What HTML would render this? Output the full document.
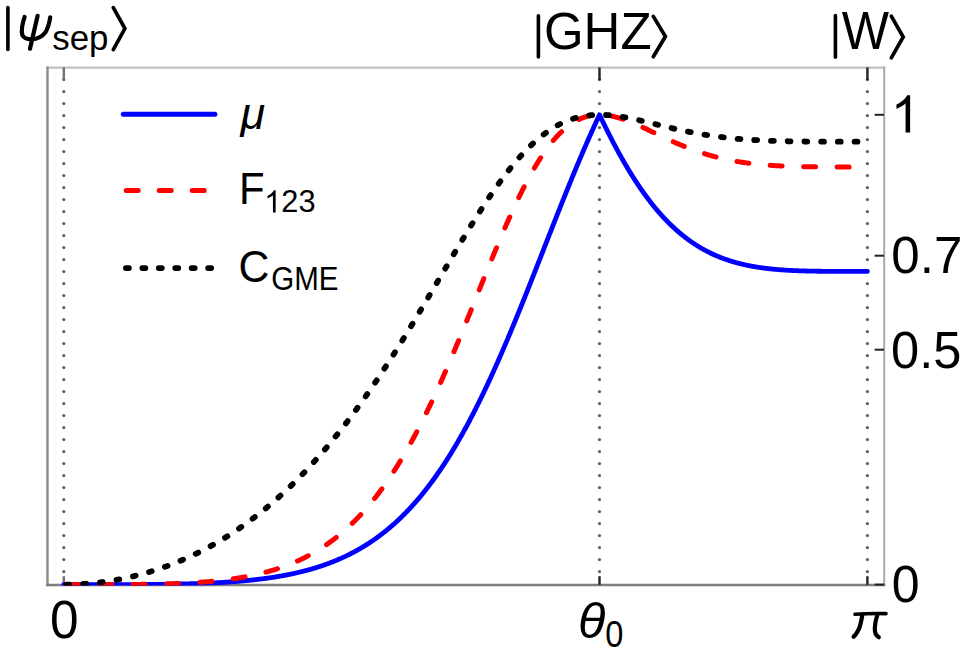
<!DOCTYPE html>
<html><head><meta charset="utf-8"><style>html,body{margin:0;padding:0;background:#fff;overflow:hidden;}svg{display:block;}</style></head>
<body>
<svg width="967" height="656" viewBox="0 0 967 656">
<rect width="967" height="656" fill="#fff"/>
<g fill="#606060"><circle cx="63.8" cy="79.6" r="1.6"/><circle cx="63.8" cy="91.6" r="1.6"/><circle cx="63.8" cy="103.6" r="1.6"/><circle cx="63.8" cy="115.6" r="1.6"/><circle cx="63.8" cy="127.6" r="1.6"/><circle cx="63.8" cy="139.6" r="1.6"/><circle cx="63.8" cy="151.6" r="1.6"/><circle cx="63.8" cy="163.6" r="1.6"/><circle cx="63.8" cy="175.6" r="1.6"/><circle cx="63.8" cy="187.6" r="1.6"/><circle cx="63.8" cy="199.6" r="1.6"/><circle cx="63.8" cy="211.6" r="1.6"/><circle cx="63.8" cy="223.6" r="1.6"/><circle cx="63.8" cy="235.6" r="1.6"/><circle cx="63.8" cy="247.6" r="1.6"/><circle cx="63.8" cy="259.6" r="1.6"/><circle cx="63.8" cy="271.6" r="1.6"/><circle cx="63.8" cy="283.6" r="1.6"/><circle cx="63.8" cy="295.6" r="1.6"/><circle cx="63.8" cy="307.6" r="1.6"/><circle cx="63.8" cy="319.6" r="1.6"/><circle cx="63.8" cy="331.6" r="1.6"/><circle cx="63.8" cy="343.6" r="1.6"/><circle cx="63.8" cy="355.6" r="1.6"/><circle cx="63.8" cy="367.6" r="1.6"/><circle cx="63.8" cy="379.6" r="1.6"/><circle cx="63.8" cy="391.6" r="1.6"/><circle cx="63.8" cy="403.6" r="1.6"/><circle cx="63.8" cy="415.6" r="1.6"/><circle cx="63.8" cy="427.6" r="1.6"/><circle cx="63.8" cy="439.6" r="1.6"/><circle cx="63.8" cy="451.6" r="1.6"/><circle cx="63.8" cy="463.6" r="1.6"/><circle cx="63.8" cy="475.6" r="1.6"/><circle cx="63.8" cy="487.6" r="1.6"/><circle cx="63.8" cy="499.6" r="1.6"/><circle cx="63.8" cy="511.6" r="1.6"/><circle cx="63.8" cy="523.6" r="1.6"/><circle cx="63.8" cy="535.6" r="1.6"/><circle cx="63.8" cy="547.6" r="1.6"/><circle cx="63.8" cy="559.6" r="1.6"/><circle cx="63.8" cy="571.6" r="1.6"/><circle cx="599.5" cy="79.6" r="1.6"/><circle cx="599.5" cy="91.6" r="1.6"/><circle cx="599.5" cy="103.6" r="1.6"/><circle cx="599.5" cy="115.6" r="1.6"/><circle cx="599.5" cy="127.6" r="1.6"/><circle cx="599.5" cy="139.6" r="1.6"/><circle cx="599.5" cy="151.6" r="1.6"/><circle cx="599.5" cy="163.6" r="1.6"/><circle cx="599.5" cy="175.6" r="1.6"/><circle cx="599.5" cy="187.6" r="1.6"/><circle cx="599.5" cy="199.6" r="1.6"/><circle cx="599.5" cy="211.6" r="1.6"/><circle cx="599.5" cy="223.6" r="1.6"/><circle cx="599.5" cy="235.6" r="1.6"/><circle cx="599.5" cy="247.6" r="1.6"/><circle cx="599.5" cy="259.6" r="1.6"/><circle cx="599.5" cy="271.6" r="1.6"/><circle cx="599.5" cy="283.6" r="1.6"/><circle cx="599.5" cy="295.6" r="1.6"/><circle cx="599.5" cy="307.6" r="1.6"/><circle cx="599.5" cy="319.6" r="1.6"/><circle cx="599.5" cy="331.6" r="1.6"/><circle cx="599.5" cy="343.6" r="1.6"/><circle cx="599.5" cy="355.6" r="1.6"/><circle cx="599.5" cy="367.6" r="1.6"/><circle cx="599.5" cy="379.6" r="1.6"/><circle cx="599.5" cy="391.6" r="1.6"/><circle cx="599.5" cy="403.6" r="1.6"/><circle cx="599.5" cy="415.6" r="1.6"/><circle cx="599.5" cy="427.6" r="1.6"/><circle cx="599.5" cy="439.6" r="1.6"/><circle cx="599.5" cy="451.6" r="1.6"/><circle cx="599.5" cy="463.6" r="1.6"/><circle cx="599.5" cy="475.6" r="1.6"/><circle cx="599.5" cy="487.6" r="1.6"/><circle cx="599.5" cy="499.6" r="1.6"/><circle cx="599.5" cy="511.6" r="1.6"/><circle cx="599.5" cy="523.6" r="1.6"/><circle cx="599.5" cy="535.6" r="1.6"/><circle cx="599.5" cy="547.6" r="1.6"/><circle cx="599.5" cy="559.6" r="1.6"/><circle cx="599.5" cy="571.6" r="1.6"/><circle cx="867.4" cy="79.6" r="1.6"/><circle cx="867.4" cy="91.6" r="1.6"/><circle cx="867.4" cy="103.6" r="1.6"/><circle cx="867.4" cy="115.6" r="1.6"/><circle cx="867.4" cy="127.6" r="1.6"/><circle cx="867.4" cy="139.6" r="1.6"/><circle cx="867.4" cy="151.6" r="1.6"/><circle cx="867.4" cy="163.6" r="1.6"/><circle cx="867.4" cy="175.6" r="1.6"/><circle cx="867.4" cy="187.6" r="1.6"/><circle cx="867.4" cy="199.6" r="1.6"/><circle cx="867.4" cy="211.6" r="1.6"/><circle cx="867.4" cy="223.6" r="1.6"/><circle cx="867.4" cy="235.6" r="1.6"/><circle cx="867.4" cy="247.6" r="1.6"/><circle cx="867.4" cy="259.6" r="1.6"/><circle cx="867.4" cy="271.6" r="1.6"/><circle cx="867.4" cy="283.6" r="1.6"/><circle cx="867.4" cy="295.6" r="1.6"/><circle cx="867.4" cy="307.6" r="1.6"/><circle cx="867.4" cy="319.6" r="1.6"/><circle cx="867.4" cy="331.6" r="1.6"/><circle cx="867.4" cy="343.6" r="1.6"/><circle cx="867.4" cy="355.6" r="1.6"/><circle cx="867.4" cy="367.6" r="1.6"/><circle cx="867.4" cy="379.6" r="1.6"/><circle cx="867.4" cy="391.6" r="1.6"/><circle cx="867.4" cy="403.6" r="1.6"/><circle cx="867.4" cy="415.6" r="1.6"/><circle cx="867.4" cy="427.6" r="1.6"/><circle cx="867.4" cy="439.6" r="1.6"/><circle cx="867.4" cy="451.6" r="1.6"/><circle cx="867.4" cy="463.6" r="1.6"/><circle cx="867.4" cy="475.6" r="1.6"/><circle cx="867.4" cy="487.6" r="1.6"/><circle cx="867.4" cy="499.6" r="1.6"/><circle cx="867.4" cy="511.6" r="1.6"/><circle cx="867.4" cy="523.6" r="1.6"/><circle cx="867.4" cy="535.6" r="1.6"/><circle cx="867.4" cy="547.6" r="1.6"/><circle cx="867.4" cy="559.6" r="1.6"/><circle cx="867.4" cy="571.6" r="1.6"/></g>
<path d="M46.3 67.7 H885.3" stroke="#c2c2c2" stroke-width="2.2" fill="none"/>
<path d="M884.2 66.6 V586.2" stroke="#a9a9a9" stroke-width="2" fill="none"/>
<path d="M47.5 66.6 V586.2" stroke="#8a8a8a" stroke-width="2.4" fill="none"/>
<path d="M46.3 585.0 H885.3" stroke="#7e7e7e" stroke-width="2.4" fill="none"/>
<g stroke="#222" fill="none"><path d="M63.8 67.4 L63.8 80.2" stroke-width="2.4" stroke="#707070"/><path d="M63.8 576.2 L63.8 584.8" stroke-width="2.4" stroke="#707070"/><path d="M599.5 67.4 L599.5 80.2" stroke-width="2.4"/><path d="M599.5 576.2 L599.5 584.8" stroke-width="2.4"/><path d="M867.4 67.4 L867.4 80.2" stroke-width="2.4"/><path d="M867.4 576.2 L867.4 584.8" stroke-width="2.4"/><path d="M874.6 584.6 L884 584.6" stroke-width="2"/><path d="M874.6 349.7 L884 349.7" stroke-width="2"/><path d="M874.6 255.7 L884 255.7" stroke-width="2"/><path d="M874.6 114.8 L884 114.8" stroke-width="2"/></g>
<defs><clipPath id="pc"><rect x="40" y="60" width="850" height="525.4"/></clipPath></defs><g clip-path="url(#pc)">
<path d="M63.80,584.60 L64.34,584.60 L64.87,584.60 L65.41,584.60 L65.94,584.60 L66.48,584.60 L67.02,584.60 L67.55,584.60 L68.09,584.60 L68.62,584.60 L69.16,584.60 L69.70,584.60 L70.23,584.60 L70.77,584.60 L71.31,584.60 L71.84,584.60 L72.38,584.60 L72.91,584.60 L73.45,584.60 L73.99,584.60 L74.52,584.60 L75.06,584.60 L75.59,584.60 L76.13,584.60 L76.67,584.60 L77.20,584.60 L77.74,584.60 L78.27,584.60 L78.81,584.60 L79.35,584.60 L79.88,584.60 L80.42,584.60 L80.95,584.60 L81.49,584.60 L82.03,584.60 L82.56,584.60 L83.10,584.60 L83.64,584.60 L84.17,584.60 L84.71,584.60 L85.24,584.60 L85.78,584.60 L86.32,584.60 L86.85,584.60 L87.39,584.60 L87.92,584.60 L88.46,584.60 L89.00,584.60 L89.53,584.60 L90.07,584.60 L90.60,584.60 L91.14,584.60 L91.68,584.60 L92.21,584.60 L92.75,584.60 L93.28,584.60 L93.82,584.60 L94.36,584.60 L94.89,584.60 L95.43,584.60 L95.97,584.60 L96.50,584.60 L97.04,584.60 L97.57,584.60 L98.11,584.60 L98.65,584.60 L99.18,584.60 L99.72,584.59 L100.25,584.59 L100.79,584.59 L101.33,584.59 L101.86,584.59 L102.40,584.59 L102.93,584.59 L103.47,584.59 L104.01,584.59 L104.54,584.59 L105.08,584.59 L105.62,584.59 L106.15,584.59 L106.69,584.59 L107.22,584.59 L107.76,584.59 L108.30,584.59 L108.83,584.59 L109.37,584.59 L109.90,584.59 L110.44,584.59 L110.98,584.58 L111.51,584.58 L112.05,584.58 L112.58,584.58 L113.12,584.58 L113.66,584.58 L114.19,584.58 L114.73,584.58 L115.26,584.58 L115.80,584.58 L116.34,584.58 L116.87,584.58 L117.41,584.57 L117.95,584.57 L118.48,584.57 L119.02,584.57 L119.55,584.57 L120.09,584.57 L120.63,584.57 L121.16,584.57 L121.70,584.57 L122.23,584.56 L122.77,584.56 L123.31,584.56 L123.84,584.56 L124.38,584.56 L124.91,584.56 L125.45,584.56 L125.99,584.55 L126.52,584.55 L127.06,584.55 L127.59,584.55 L128.13,584.55 L128.67,584.54 L129.20,584.54 L129.74,584.54 L130.28,584.54 L130.81,584.54 L131.35,584.54 L131.88,584.53 L132.42,584.53 L132.96,584.53 L133.49,584.53 L134.03,584.52 L134.56,584.52 L135.10,584.52 L135.64,584.52 L136.17,584.51 L136.71,584.51 L137.24,584.51 L137.78,584.51 L138.32,584.50 L138.85,584.50 L139.39,584.50 L139.92,584.49 L140.46,584.49 L141.00,584.49 L141.53,584.49 L142.07,584.48 L142.61,584.48 L143.14,584.48 L143.68,584.47 L144.21,584.47 L144.75,584.46 L145.29,584.46 L145.82,584.46 L146.36,584.45 L146.89,584.45 L147.43,584.45 L147.97,584.44 L148.50,584.44 L149.04,584.43 L149.57,584.43 L150.11,584.42 L150.65,584.42 L151.18,584.42 L151.72,584.41 L152.25,584.41 L152.79,584.40 L153.33,584.40 L153.86,584.39 L154.40,584.39 L154.94,584.38 L155.47,584.38 L156.01,584.37 L156.54,584.36 L157.08,584.36 L157.62,584.35 L158.15,584.35 L158.69,584.34 L159.22,584.34 L159.76,584.33 L160.30,584.32 L160.83,584.32 L161.37,584.31 L161.90,584.30 L162.44,584.30 L162.98,584.29 L163.51,584.28 L164.05,584.28 L164.59,584.27 L165.12,584.26 L165.66,584.25 L166.19,584.25 L166.73,584.24 L167.27,584.23 L167.80,584.22 L168.34,584.22 L168.87,584.21 L169.41,584.20 L169.95,584.19 L170.48,584.18 L171.02,584.17 L171.55,584.16 L172.09,584.16 L172.63,584.15 L173.16,584.14 L173.70,584.13 L174.23,584.12 L174.77,584.11 L175.31,584.10 L175.84,584.09 L176.38,584.08 L176.92,584.07 L177.45,584.06 L177.99,584.05 L178.52,584.04 L179.06,584.02 L179.60,584.01 L180.13,584.00 L180.67,583.99 L181.20,583.98 L181.74,583.97 L182.28,583.95 L182.81,583.94 L183.35,583.93 L183.88,583.92 L184.42,583.91 L184.96,583.89 L185.49,583.88 L186.03,583.87 L186.56,583.85 L187.10,583.84 L187.64,583.82 L188.17,583.81 L188.71,583.80 L189.25,583.78 L189.78,583.77 L190.32,583.75 L190.85,583.74 L191.39,583.72 L191.93,583.71 L192.46,583.69 L193.00,583.68 L193.53,583.66 L194.07,583.64 L194.61,583.63 L195.14,583.61 L195.68,583.59 L196.21,583.58 L196.75,583.56 L197.29,583.54 L197.82,583.52 L198.36,583.50 L198.89,583.49 L199.43,583.47 L199.97,583.45 L200.50,583.43 L201.04,583.41 L201.58,583.39 L202.11,583.37 L202.65,583.35 L203.18,583.33 L203.72,583.31 L204.26,583.29 L204.79,583.27 L205.33,583.25 L205.86,583.22 L206.40,583.20 L206.94,583.18 L207.47,583.16 L208.01,583.13 L208.54,583.11 L209.08,583.09 L209.62,583.06 L210.15,583.04 L210.69,583.02 L211.22,582.99 L211.76,582.97 L212.30,582.94 L212.83,582.92 L213.37,582.89 L213.91,582.86 L214.44,582.84 L214.98,582.81 L215.51,582.78 L216.05,582.76 L216.59,582.73 L217.12,582.70 L217.66,582.67 L218.19,582.65 L218.73,582.62 L219.27,582.59 L219.80,582.56 L220.34,582.53 L220.87,582.50 L221.41,582.47 L221.95,582.44 L222.48,582.40 L223.02,582.37 L223.56,582.34 L224.09,582.31 L224.63,582.27 L225.16,582.24 L225.70,582.21 L226.24,582.17 L226.77,582.14 L227.31,582.10 L227.84,582.07 L228.38,582.03 L228.92,582.00 L229.45,581.96 L229.99,581.93 L230.52,581.89 L231.06,581.85 L231.60,581.81 L232.13,581.77 L232.67,581.74 L233.20,581.70 L233.74,581.66 L234.28,581.62 L234.81,581.58 L235.35,581.54 L235.89,581.49 L236.42,581.45 L236.96,581.41 L237.49,581.37 L238.03,581.32 L238.57,581.28 L239.10,581.24 L239.64,581.19 L240.17,581.15 L240.71,581.10 L241.25,581.06 L241.78,581.01 L242.32,580.96 L242.85,580.91 L243.39,580.87 L243.93,580.82 L244.46,580.77 L245.00,580.72 L245.53,580.67 L246.07,580.62 L246.61,580.57 L247.14,580.52 L247.68,580.47 L248.22,580.41 L248.75,580.36 L249.29,580.31 L249.82,580.25 L250.36,580.20 L250.90,580.14 L251.43,580.09 L251.97,580.03 L252.50,579.97 L253.04,579.92 L253.58,579.86 L254.11,579.80 L254.65,579.74 L255.18,579.68 L255.72,579.62 L256.26,579.56 L256.79,579.50 L257.33,579.43 L257.86,579.37 L258.40,579.31 L258.94,579.24 L259.47,579.18 L260.01,579.11 L260.55,579.05 L261.08,578.98 L261.62,578.91 L262.15,578.85 L262.69,578.78 L263.23,578.71 L263.76,578.64 L264.30,578.57 L264.83,578.50 L265.37,578.42 L265.91,578.35 L266.44,578.28 L266.98,578.20 L267.51,578.13 L268.05,578.05 L268.59,577.98 L269.12,577.90 L269.66,577.82 L270.19,577.74 L270.73,577.66 L271.27,577.59 L271.80,577.50 L272.34,577.42 L272.88,577.34 L273.41,577.26 L273.95,577.17 L274.48,577.09 L275.02,577.01 L275.56,576.92 L276.09,576.83 L276.63,576.74 L277.16,576.66 L277.70,576.57 L278.24,576.48 L278.77,576.39 L279.31,576.29 L279.84,576.20 L280.38,576.11 L280.92,576.01 L281.45,575.92 L281.99,575.82 L282.53,575.73 L283.06,575.63 L283.60,575.53 L284.13,575.43 L284.67,575.33 L285.21,575.23 L285.74,575.13 L286.28,575.03 L286.81,574.92 L287.35,574.82 L287.89,574.71 L288.42,574.60 L288.96,574.50 L289.49,574.39 L290.03,574.28 L290.57,574.17 L291.10,574.06 L291.64,573.94 L292.17,573.83 L292.71,573.72 L293.25,573.60 L293.78,573.48 L294.32,573.37 L294.86,573.25 L295.39,573.13 L295.93,573.01 L296.46,572.89 L297.00,572.76 L297.54,572.64 L298.07,572.52 L298.61,572.39 L299.14,572.26 L299.68,572.14 L300.22,572.01 L300.75,571.88 L301.29,571.74 L301.82,571.61 L302.36,571.48 L302.90,571.34 L303.43,571.21 L303.97,571.07 L304.50,570.93 L305.04,570.79 L305.58,570.65 L306.11,570.51 L306.65,570.37 L307.19,570.23 L307.72,570.08 L308.26,569.93 L308.79,569.79 L309.33,569.64 L309.87,569.49 L310.40,569.34 L310.94,569.18 L311.47,569.03 L312.01,568.87 L312.55,568.72 L313.08,568.56 L313.62,568.40 L314.15,568.24 L314.69,568.08 L315.23,567.92 L315.76,567.75 L316.30,567.59 L316.83,567.42 L317.37,567.25 L317.91,567.08 L318.44,566.91 L318.98,566.74 L319.52,566.56 L320.05,566.39 L320.59,566.21 L321.12,566.03 L321.66,565.85 L322.20,565.67 L322.73,565.49 L323.27,565.31 L323.80,565.12 L324.34,564.94 L324.88,564.75 L325.41,564.56 L325.95,564.37 L326.48,564.17 L327.02,563.98 L327.56,563.78 L328.09,563.59 L328.63,563.39 L329.16,563.19 L329.70,562.98 L330.24,562.78 L330.77,562.57 L331.31,562.37 L331.85,562.16 L332.38,561.95 L332.92,561.74 L333.45,561.52 L333.99,561.31 L334.53,561.09 L335.06,560.87 L335.60,560.65 L336.13,560.43 L336.67,560.21 L337.21,559.98 L337.74,559.76 L338.28,559.53 L338.81,559.30 L339.35,559.06 L339.89,558.83 L340.42,558.59 L340.96,558.36 L341.49,558.12 L342.03,557.88 L342.57,557.63 L343.10,557.39 L343.64,557.14 L344.18,556.89 L344.71,556.64 L345.25,556.39 L345.78,556.13 L346.32,555.88 L346.86,555.62 L347.39,555.36 L347.93,555.10 L348.46,554.83 L349.00,554.57 L349.54,554.30 L350.07,554.03 L350.61,553.76 L351.14,553.48 L351.68,553.21 L352.22,552.93 L352.75,552.65 L353.29,552.37 L353.83,552.08 L354.36,551.80 L354.90,551.51 L355.43,551.22 L355.97,550.93 L356.51,550.63 L357.04,550.33 L357.58,550.04 L358.11,549.73 L358.65,549.43 L359.19,549.12 L359.72,548.82 L360.26,548.51 L360.79,548.19 L361.33,547.88 L361.87,547.56 L362.40,547.24 L362.94,546.92 L363.47,546.60 L364.01,546.27 L364.55,545.95 L365.08,545.61 L365.62,545.28 L366.16,544.95 L366.69,544.61 L367.23,544.27 L367.76,543.93 L368.30,543.58 L368.84,543.23 L369.37,542.88 L369.91,542.53 L370.44,542.18 L370.98,541.82 L371.52,541.46 L372.05,541.10 L372.59,540.73 L373.12,540.37 L373.66,540.00 L374.20,539.62 L374.73,539.25 L375.27,538.87 L375.80,538.49 L376.34,538.11 L376.88,537.72 L377.41,537.34 L377.95,536.95 L378.49,536.55 L379.02,536.16 L379.56,535.76 L380.09,535.36 L380.63,534.95 L381.17,534.55 L381.70,534.14 L382.24,533.72 L382.77,533.31 L383.31,532.89 L383.85,532.47 L384.38,532.05 L384.92,531.62 L385.45,531.19 L385.99,530.76 L386.53,530.33 L387.06,529.89 L387.60,529.45 L388.13,529.00 L388.67,528.56 L389.21,528.11 L389.74,527.66 L390.28,527.20 L390.82,526.74 L391.35,526.28 L391.89,525.82 L392.42,525.35 L392.96,524.88 L393.50,524.41 L394.03,523.93 L394.57,523.45 L395.10,522.97 L395.64,522.48 L396.18,521.99 L396.71,521.50 L397.25,521.01 L397.78,520.51 L398.32,520.01 L398.86,519.50 L399.39,518.99 L399.93,518.48 L400.46,517.97 L401.00,517.45 L401.54,516.93 L402.07,516.41 L402.61,515.88 L403.15,515.35 L403.68,514.82 L404.22,514.28 L404.75,513.74 L405.29,513.19 L405.83,512.65 L406.36,512.10 L406.90,511.54 L407.43,510.99 L407.97,510.42 L408.51,509.86 L409.04,509.29 L409.58,508.72 L410.11,508.15 L410.65,507.57 L411.19,506.99 L411.72,506.40 L412.26,505.81 L412.80,505.22 L413.33,504.63 L413.87,504.03 L414.40,503.43 L414.94,502.82 L415.48,502.21 L416.01,501.60 L416.55,500.98 L417.08,500.36 L417.62,499.73 L418.16,499.11 L418.69,498.48 L419.23,497.84 L419.76,497.20 L420.30,496.56 L420.84,495.91 L421.37,495.26 L421.91,494.61 L422.44,493.95 L422.98,493.29 L423.52,492.63 L424.05,491.96 L424.59,491.28 L425.13,490.61 L425.66,489.93 L426.20,489.24 L426.73,488.56 L427.27,487.86 L427.81,487.17 L428.34,486.47 L428.88,485.77 L429.41,485.06 L429.95,484.35 L430.49,483.63 L431.02,482.92 L431.56,482.19 L432.09,481.47 L432.63,480.74 L433.17,480.00 L433.70,479.26 L434.24,478.52 L434.77,477.77 L435.31,477.02 L435.85,476.27 L436.38,475.51 L436.92,474.75 L437.46,473.98 L437.99,473.21 L438.53,472.44 L439.06,471.66 L439.60,470.88 L440.14,470.09 L440.67,469.30 L441.21,468.51 L441.74,467.71 L442.28,466.91 L442.82,466.10 L443.35,465.29 L443.89,464.47 L444.42,463.66 L444.96,462.83 L445.50,462.01 L446.03,461.17 L446.57,460.34 L447.10,459.50 L447.64,458.66 L448.18,457.81 L448.71,456.96 L449.25,456.10 L449.79,455.24 L450.32,454.38 L450.86,453.51 L451.39,452.64 L451.93,451.76 L452.47,450.88 L453.00,449.99 L453.54,449.10 L454.07,448.21 L454.61,447.31 L455.15,446.41 L455.68,445.51 L456.22,444.60 L456.75,443.68 L457.29,442.76 L457.83,441.84 L458.36,440.91 L458.90,439.98 L459.43,439.05 L459.97,438.11 L460.51,437.17 L461.04,436.22 L461.58,435.27 L462.12,434.31 L462.65,433.35 L463.19,432.39 L463.72,431.42 L464.26,430.45 L464.80,429.47 L465.33,428.49 L465.87,427.51 L466.40,426.52 L466.94,425.53 L467.48,424.53 L468.01,423.53 L468.55,422.52 L469.08,421.51 L469.62,420.50 L470.16,419.48 L470.69,418.46 L471.23,417.44 L471.77,416.41 L472.30,415.37 L472.84,414.33 L473.37,413.29 L473.91,412.25 L474.45,411.20 L474.98,410.14 L475.52,409.08 L476.05,408.02 L476.59,406.96 L477.13,405.89 L477.66,404.81 L478.20,403.74 L478.73,402.65 L479.27,401.57 L479.81,400.48 L480.34,399.39 L480.88,398.29 L481.41,397.19 L481.95,396.08 L482.49,394.97 L483.02,393.86 L483.56,392.74 L484.10,391.62 L484.63,390.50 L485.17,389.37 L485.70,388.24 L486.24,387.10 L486.78,385.96 L487.31,384.82 L487.85,383.67 L488.38,382.52 L488.92,381.37 L489.46,380.21 L489.99,379.05 L490.53,377.89 L491.06,376.72 L491.60,375.55 L492.14,374.37 L492.67,373.19 L493.21,372.01 L493.74,370.82 L494.28,369.63 L494.82,368.44 L495.35,367.25 L495.89,366.05 L496.43,364.84 L496.96,363.64 L497.50,362.43 L498.03,361.21 L498.57,360.00 L499.11,358.78 L499.64,357.56 L500.18,356.33 L500.71,355.10 L501.25,353.87 L501.79,352.63 L502.32,351.39 L502.86,350.15 L503.39,348.91 L503.93,347.66 L504.47,346.41 L505.00,345.16 L505.54,343.90 L506.07,342.64 L506.61,341.38 L507.15,340.11 L507.68,338.85 L508.22,337.58 L508.76,336.30 L509.29,335.03 L509.83,333.75 L510.36,332.47 L510.90,331.18 L511.44,329.90 L511.97,328.61 L512.51,327.32 L513.04,326.02 L513.58,324.73 L514.12,323.43 L514.65,322.13 L515.19,320.82 L515.72,319.52 L516.26,318.21 L516.80,316.90 L517.33,315.59 L517.87,314.27 L518.40,312.96 L518.94,311.64 L519.48,310.32 L520.01,308.99 L520.55,307.67 L521.09,306.34 L521.62,305.01 L522.16,303.68 L522.69,302.35 L523.23,301.02 L523.77,299.68 L524.30,298.35 L524.84,297.01 L525.37,295.67 L525.91,294.32 L526.45,292.98 L526.98,291.63 L527.52,290.29 L528.05,288.94 L528.59,287.59 L529.13,286.24 L529.66,284.89 L530.20,283.53 L530.74,282.18 L531.27,280.82 L531.81,279.47 L532.34,278.11 L532.88,276.75 L533.42,275.39 L533.95,274.03 L534.49,272.67 L535.02,271.31 L535.56,269.95 L536.10,268.58 L536.63,267.22 L537.17,265.85 L537.70,264.49 L538.24,263.12 L538.78,261.75 L539.31,260.39 L539.85,259.02 L540.38,257.65 L540.92,256.28 L541.46,254.91 L541.99,253.54 L542.53,252.17 L543.07,250.80 L543.60,249.43 L544.14,248.07 L544.67,246.70 L545.21,245.33 L545.75,243.96 L546.28,242.59 L546.82,241.22 L547.35,239.85 L547.89,238.48 L548.43,237.11 L548.96,235.74 L549.50,234.38 L550.03,233.01 L550.57,231.64 L551.11,230.28 L551.64,228.91 L552.18,227.55 L552.71,226.18 L553.25,224.82 L553.79,223.46 L554.32,222.09 L554.86,220.73 L555.40,219.37 L555.93,218.01 L556.47,216.66 L557.00,215.30 L557.54,213.94 L558.08,212.59 L558.61,211.24 L559.15,209.88 L559.68,208.53 L560.22,207.18 L560.76,205.84 L561.29,204.49 L561.83,203.14 L562.36,201.80 L562.90,200.46 L563.44,199.12 L563.97,197.78 L564.51,196.44 L565.04,195.11 L565.58,193.77 L566.12,192.44 L566.65,191.11 L567.19,189.78 L567.73,188.46 L568.26,187.13 L568.80,185.81 L569.33,184.49 L569.87,183.17 L570.41,181.86 L570.94,180.55 L571.48,179.23 L572.01,177.93 L572.55,176.62 L573.09,175.32 L573.62,174.01 L574.16,172.72 L574.69,171.42 L575.23,170.13 L575.77,168.83 L576.30,167.55 L576.84,166.26 L577.37,164.98 L577.91,163.70 L578.45,162.42 L578.98,161.14 L579.52,159.87 L580.06,158.60 L580.59,157.34 L581.13,156.08 L581.66,154.82 L582.20,153.56 L582.74,152.31 L583.27,151.06 L583.81,149.81 L584.34,148.56 L584.88,147.32 L585.42,146.09 L585.95,144.85 L586.49,143.62 L587.02,142.39 L587.56,141.17 L588.10,139.95 L588.63,138.73 L589.17,137.52 L589.71,136.31 L590.24,135.10 L590.78,133.90 L591.31,132.70 L591.85,131.51 L592.39,130.32 L592.92,129.13 L593.46,127.94 L593.99,126.76 L594.53,125.59 L595.07,124.42 L595.60,123.25 L596.14,122.08 L596.67,120.92 L597.21,119.77 L597.75,118.61 L598.28,117.46 L598.82,116.32 L599.35,115.18 L599.53,114.80 L599.89,115.56 L600.43,116.69 L600.96,117.82 L601.50,118.94 L602.04,120.06 L602.57,121.18 L603.11,122.29 L603.64,123.39 L604.18,124.50 L604.72,125.59 L605.25,126.69 L605.79,127.78 L606.32,128.86 L606.86,129.94 L607.40,131.02 L607.93,132.09 L608.47,133.16 L609.00,134.22 L609.54,135.28 L610.08,136.33 L610.61,137.38 L611.15,138.43 L611.68,139.47 L612.22,140.50 L612.76,141.53 L613.29,142.56 L613.83,143.58 L614.37,144.60 L614.90,145.61 L615.44,146.62 L615.97,147.62 L616.51,148.62 L617.05,149.61 L617.58,150.60 L618.12,151.58 L618.65,152.56 L619.19,153.54 L619.73,154.51 L620.26,155.47 L620.80,156.43 L621.33,157.39 L621.87,158.34 L622.41,159.29 L622.94,160.23 L623.48,161.16 L624.01,162.09 L624.55,163.02 L625.09,163.94 L625.62,164.86 L626.16,165.77 L626.70,166.68 L627.23,167.58 L627.77,168.48 L628.30,169.37 L628.84,170.26 L629.38,171.14 L629.91,172.02 L630.45,172.89 L630.98,173.76 L631.52,174.62 L632.06,175.48 L632.59,176.34 L633.13,177.18 L633.66,178.03 L634.20,178.87 L634.74,179.70 L635.27,180.53 L635.81,181.35 L636.34,182.17 L636.88,182.99 L637.42,183.80 L637.95,184.60 L638.49,185.40 L639.03,186.20 L639.56,186.98 L640.10,187.77 L640.63,188.55 L641.17,189.33 L641.71,190.10 L642.24,190.86 L642.78,191.62 L643.31,192.38 L643.85,193.13 L644.39,193.88 L644.92,194.62 L645.46,195.35 L645.99,196.09 L646.53,196.81 L647.07,197.54 L647.60,198.25 L648.14,198.97 L648.67,199.67 L649.21,200.38 L649.75,201.08 L650.28,201.77 L650.82,202.46 L651.36,203.14 L651.89,203.82 L652.43,204.50 L652.96,205.17 L653.50,205.83 L654.04,206.49 L654.57,207.15 L655.11,207.80 L655.64,208.45 L656.18,209.09 L656.72,209.73 L657.25,210.36 L657.79,210.99 L658.32,211.61 L658.86,212.23 L659.40,212.85 L659.93,213.46 L660.47,214.06 L661.01,214.66 L661.54,215.26 L662.08,215.85 L662.61,216.44 L663.15,217.02 L663.69,217.60 L664.22,218.18 L664.76,218.75 L665.29,219.31 L665.83,219.87 L666.37,220.43 L666.90,220.98 L667.44,221.53 L667.97,222.08 L668.51,222.62 L669.05,223.15 L669.58,223.68 L670.12,224.21 L670.65,224.73 L671.19,225.25 L671.73,225.77 L672.26,226.28 L672.80,226.78 L673.34,227.28 L673.87,227.78 L674.41,228.27 L674.94,228.76 L675.48,229.25 L676.02,229.73 L676.55,230.21 L677.09,230.68 L677.62,231.15 L678.16,231.62 L678.70,232.08 L679.23,232.53 L679.77,232.99 L680.30,233.44 L680.84,233.88 L681.38,234.32 L681.91,234.76 L682.45,235.20 L682.98,235.63 L683.52,236.05 L684.06,236.48 L684.59,236.90 L685.13,237.31 L685.67,237.72 L686.20,238.13 L686.74,238.53 L687.27,238.93 L687.81,239.33 L688.35,239.72 L688.88,240.11 L689.42,240.50 L689.95,240.88 L690.49,241.26 L691.03,241.64 L691.56,242.01 L692.10,242.38 L692.63,242.74 L693.17,243.10 L693.71,243.46 L694.24,243.82 L694.78,244.17 L695.31,244.51 L695.85,244.86 L696.39,245.20 L696.92,245.54 L697.46,245.87 L698.00,246.20 L698.53,246.53 L699.07,246.86 L699.60,247.18 L700.14,247.50 L700.68,247.81 L701.21,248.12 L701.75,248.43 L702.28,248.74 L702.82,249.04 L703.36,249.34 L703.89,249.64 L704.43,249.93 L704.96,250.22 L705.50,250.51 L706.04,250.80 L706.57,251.08 L707.11,251.36 L707.64,251.63 L708.18,251.90 L708.72,252.17 L709.25,252.44 L709.79,252.71 L710.33,252.97 L710.86,253.23 L711.40,253.48 L711.93,253.74 L712.47,253.99 L713.01,254.24 L713.54,254.48 L714.08,254.72 L714.61,254.96 L715.15,255.20 L715.69,255.43 L716.22,255.67 L716.76,255.90 L717.29,256.12 L717.83,256.35 L718.37,256.57 L718.90,256.79 L719.44,257.01 L719.98,257.22 L720.51,257.43 L721.05,257.64 L721.58,257.85 L722.12,258.05 L722.66,258.26 L723.19,258.46 L723.73,258.65 L724.26,258.85 L724.80,259.04 L725.34,259.23 L725.87,259.42 L726.41,259.61 L726.94,259.79 L727.48,259.97 L728.02,260.15 L728.55,260.33 L729.09,260.51 L729.62,260.68 L730.16,260.85 L730.70,261.02 L731.23,261.19 L731.77,261.35 L732.31,261.51 L732.84,261.68 L733.38,261.83 L733.91,261.99 L734.45,262.15 L734.99,262.30 L735.52,262.45 L736.06,262.60 L736.59,262.75 L737.13,262.89 L737.67,263.03 L738.20,263.18 L738.74,263.32 L739.27,263.45 L739.81,263.59 L740.35,263.72 L740.88,263.86 L741.42,263.99 L741.95,264.12 L742.49,264.24 L743.03,264.37 L743.56,264.49 L744.10,264.62 L744.64,264.74 L745.17,264.85 L745.71,264.97 L746.24,265.09 L746.78,265.20 L747.32,265.31 L747.85,265.43 L748.39,265.53 L748.92,265.64 L749.46,265.75 L750.00,265.85 L750.53,265.96 L751.07,266.06 L751.60,266.16 L752.14,266.26 L752.68,266.36 L753.21,266.45 L753.75,266.55 L754.28,266.64 L754.82,266.73 L755.36,266.82 L755.89,266.91 L756.43,267.00 L756.97,267.08 L757.50,267.17 L758.04,267.25 L758.57,267.34 L759.11,267.42 L759.65,267.50 L760.18,267.58 L760.72,267.65 L761.25,267.73 L761.79,267.81 L762.33,267.88 L762.86,267.95 L763.40,268.03 L763.93,268.10 L764.47,268.17 L765.01,268.23 L765.54,268.30 L766.08,268.37 L766.61,268.43 L767.15,268.50 L767.69,268.56 L768.22,268.62 L768.76,268.68 L769.30,268.74 L769.83,268.80 L770.37,268.86 L770.90,268.91 L771.44,268.97 L771.98,269.03 L772.51,269.08 L773.05,269.13 L773.58,269.18 L774.12,269.24 L774.66,269.29 L775.19,269.34 L775.73,269.38 L776.26,269.43 L776.80,269.48 L777.34,269.52 L777.87,269.57 L778.41,269.61 L778.95,269.66 L779.48,269.70 L780.02,269.74 L780.55,269.78 L781.09,269.82 L781.63,269.86 L782.16,269.90 L782.70,269.94 L783.23,269.98 L783.77,270.01 L784.31,270.05 L784.84,270.08 L785.38,270.12 L785.91,270.15 L786.45,270.18 L786.99,270.22 L787.52,270.25 L788.06,270.28 L788.59,270.31 L789.13,270.34 L789.67,270.37 L790.20,270.40 L790.74,270.43 L791.28,270.45 L791.81,270.48 L792.35,270.51 L792.88,270.53 L793.42,270.56 L793.96,270.58 L794.49,270.60 L795.03,270.63 L795.56,270.65 L796.10,270.67 L796.64,270.70 L797.17,270.72 L797.71,270.74 L798.24,270.76 L798.78,270.78 L799.32,270.80 L799.85,270.82 L800.39,270.83 L800.92,270.85 L801.46,270.87 L802.00,270.89 L802.53,270.90 L803.07,270.92 L803.61,270.94 L804.14,270.95 L804.68,270.97 L805.21,270.98 L805.75,271.00 L806.29,271.01 L806.82,271.02 L807.36,271.04 L807.89,271.05 L808.43,271.06 L808.97,271.07 L809.50,271.09 L810.04,271.10 L810.57,271.11 L811.11,271.12 L811.65,271.13 L812.18,271.14 L812.72,271.15 L813.25,271.16 L813.79,271.17 L814.33,271.18 L814.86,271.19 L815.40,271.20 L815.94,271.20 L816.47,271.21 L817.01,271.22 L817.54,271.23 L818.08,271.24 L818.62,271.24 L819.15,271.25 L819.69,271.26 L820.22,271.26 L820.76,271.27 L821.30,271.27 L821.83,271.28 L822.37,271.29 L822.90,271.29 L823.44,271.30 L823.98,271.30 L824.51,271.31 L825.05,271.31 L825.58,271.32 L826.12,271.32 L826.66,271.32 L827.19,271.33 L827.73,271.33 L828.27,271.34 L828.80,271.34 L829.34,271.34 L829.87,271.35 L830.41,271.35 L830.95,271.35 L831.48,271.35 L832.02,271.36 L832.55,271.36 L833.09,271.36 L833.63,271.36 L834.16,271.37 L834.70,271.37 L835.23,271.37 L835.77,271.37 L836.31,271.37 L836.84,271.38 L837.38,271.38 L837.92,271.38 L838.45,271.38 L838.99,271.38 L839.52,271.38 L840.06,271.38 L840.60,271.39 L841.13,271.39 L841.67,271.39 L842.20,271.39 L842.74,271.39 L843.28,271.39 L843.81,271.39 L844.35,271.39 L844.88,271.39 L845.42,271.39 L845.96,271.39 L846.49,271.39 L847.03,271.40 L847.56,271.40 L848.10,271.40 L848.64,271.40 L849.17,271.40 L849.71,271.40 L850.25,271.40 L850.78,271.40 L851.32,271.40 L851.85,271.40 L852.39,271.40 L852.93,271.40 L853.46,271.40 L854.00,271.40 L854.53,271.40 L855.07,271.40 L855.61,271.40 L856.14,271.40 L856.68,271.40 L857.21,271.40 L857.75,271.40 L858.29,271.40 L858.82,271.40 L859.36,271.40 L859.89,271.40 L860.43,271.40 L860.97,271.40 L861.50,271.40 L862.04,271.40 L862.58,271.40 L863.11,271.40 L863.65,271.40 L864.18,271.40 L864.72,271.40 L865.26,271.40 L865.79,271.40 L866.33,271.40 L866.86,271.40 L867.40,271.40" fill="none" stroke="#00f" stroke-width="4.8" stroke-linecap="round" stroke-linejoin="round"/>
<path d="M63.80,584.60 L64.34,584.60 L64.87,584.60 L65.41,584.60 L65.94,584.60 L66.48,584.60 L67.02,584.60 L67.55,584.60 L68.09,584.60 L68.62,584.60 L69.16,584.60 L69.70,584.60 L70.23,584.60 L70.77,584.60 L71.31,584.60 L71.84,584.60 L72.38,584.60 L72.91,584.60 L73.45,584.60 L73.99,584.60 L74.52,584.60 L75.06,584.60 L75.59,584.60 L76.13,584.60 L76.67,584.60 L77.20,584.60 L77.74,584.60 L78.27,584.60 L78.81,584.60 L79.35,584.60 L79.88,584.60 L80.42,584.60 L80.95,584.60 L81.49,584.60 L82.03,584.60 L82.56,584.60 L83.10,584.60 L83.64,584.60 L84.17,584.60 L84.71,584.60 L85.24,584.60 L85.78,584.60 L86.32,584.60 L86.85,584.60 L87.39,584.60 L87.92,584.60 L88.46,584.60 L89.00,584.60 L89.53,584.60 L90.07,584.60 L90.60,584.60 L91.14,584.60 L91.68,584.60 L92.21,584.60 L92.75,584.60 L93.28,584.60 L93.82,584.60 L94.36,584.59 L94.89,584.59 L95.43,584.59 L95.97,584.59 L96.50,584.59 L97.04,584.59 L97.57,584.59 L98.11,584.59 L98.65,584.59 L99.18,584.59 L99.72,584.59 L100.25,584.59 L100.79,584.59 L101.33,584.59 L101.86,584.59 L102.40,584.59 L102.93,584.59 L103.47,584.58 L104.01,584.58 L104.54,584.58 L105.08,584.58 L105.62,584.58 L106.15,584.58 L106.69,584.58 L107.22,584.58 L107.76,584.58 L108.30,584.58 L108.83,584.57 L109.37,584.57 L109.90,584.57 L110.44,584.57 L110.98,584.57 L111.51,584.57 L112.05,584.57 L112.58,584.57 L113.12,584.56 L113.66,584.56 L114.19,584.56 L114.73,584.56 L115.26,584.56 L115.80,584.55 L116.34,584.55 L116.87,584.55 L117.41,584.55 L117.95,584.55 L118.48,584.54 L119.02,584.54 L119.55,584.54 L120.09,584.54 L120.63,584.54 L121.16,584.53 L121.70,584.53 L122.23,584.53 L122.77,584.52 L123.31,584.52 L123.84,584.52 L124.38,584.52 L124.91,584.51 L125.45,584.51 L125.99,584.51 L126.52,584.50 L127.06,584.50 L127.59,584.50 L128.13,584.49 L128.67,584.49 L129.20,584.49 L129.74,584.48 L130.28,584.48 L130.81,584.47 L131.35,584.47 L131.88,584.47 L132.42,584.46 L132.96,584.46 L133.49,584.45 L134.03,584.45 L134.56,584.44 L135.10,584.44 L135.64,584.43 L136.17,584.43 L136.71,584.42 L137.24,584.42 L137.78,584.41 L138.32,584.41 L138.85,584.40 L139.39,584.40 L139.92,584.39 L140.46,584.38 L141.00,584.38 L141.53,584.37 L142.07,584.36 L142.61,584.36 L143.14,584.35 L143.68,584.34 L144.21,584.34 L144.75,584.33 L145.29,584.32 L145.82,584.31 L146.36,584.31 L146.89,584.30 L147.43,584.29 L147.97,584.28 L148.50,584.27 L149.04,584.27 L149.57,584.26 L150.11,584.25 L150.65,584.24 L151.18,584.23 L151.72,584.22 L152.25,584.21 L152.79,584.20 L153.33,584.19 L153.86,584.18 L154.40,584.17 L154.94,584.16 L155.47,584.15 L156.01,584.14 L156.54,584.13 L157.08,584.12 L157.62,584.11 L158.15,584.09 L158.69,584.08 L159.22,584.07 L159.76,584.06 L160.30,584.05 L160.83,584.03 L161.37,584.02 L161.90,584.01 L162.44,583.99 L162.98,583.98 L163.51,583.97 L164.05,583.95 L164.59,583.94 L165.12,583.92 L165.66,583.91 L166.19,583.89 L166.73,583.88 L167.27,583.86 L167.80,583.85 L168.34,583.83 L168.87,583.81 L169.41,583.80 L169.95,583.78 L170.48,583.76 L171.02,583.75 L171.55,583.73 L172.09,583.71 L172.63,583.69 L173.16,583.67 L173.70,583.65 L174.23,583.64 L174.77,583.62 L175.31,583.60 L175.84,583.58 L176.38,583.56 L176.92,583.54 L177.45,583.51 L177.99,583.49 L178.52,583.47 L179.06,583.45 L179.60,583.43 L180.13,583.40 L180.67,583.38 L181.20,583.36 L181.74,583.33 L182.28,583.31 L182.81,583.29 L183.35,583.26 L183.88,583.24 L184.42,583.21 L184.96,583.19 L185.49,583.16 L186.03,583.13 L186.56,583.11 L187.10,583.08 L187.64,583.05 L188.17,583.02 L188.71,582.99 L189.25,582.97 L189.78,582.94 L190.32,582.91 L190.85,582.88 L191.39,582.85 L191.93,582.82 L192.46,582.78 L193.00,582.75 L193.53,582.72 L194.07,582.69 L194.61,582.66 L195.14,582.62 L195.68,582.59 L196.21,582.55 L196.75,582.52 L197.29,582.48 L197.82,582.45 L198.36,582.41 L198.89,582.37 L199.43,582.34 L199.97,582.30 L200.50,582.26 L201.04,582.22 L201.58,582.18 L202.11,582.14 L202.65,582.10 L203.18,582.06 L203.72,582.02 L204.26,581.98 L204.79,581.94 L205.33,581.90 L205.86,581.85 L206.40,581.81 L206.94,581.76 L207.47,581.72 L208.01,581.67 L208.54,581.63 L209.08,581.58 L209.62,581.53 L210.15,581.49 L210.69,581.44 L211.22,581.39 L211.76,581.34 L212.30,581.29 L212.83,581.24 L213.37,581.19 L213.91,581.14 L214.44,581.08 L214.98,581.03 L215.51,580.98 L216.05,580.92 L216.59,580.87 L217.12,580.81 L217.66,580.76 L218.19,580.70 L218.73,580.64 L219.27,580.58 L219.80,580.52 L220.34,580.46 L220.87,580.40 L221.41,580.34 L221.95,580.28 L222.48,580.22 L223.02,580.15 L223.56,580.09 L224.09,580.03 L224.63,579.96 L225.16,579.90 L225.70,579.83 L226.24,579.76 L226.77,579.69 L227.31,579.62 L227.84,579.55 L228.38,579.48 L228.92,579.41 L229.45,579.34 L229.99,579.27 L230.52,579.19 L231.06,579.12 L231.60,579.04 L232.13,578.97 L232.67,578.89 L233.20,578.81 L233.74,578.73 L234.28,578.65 L234.81,578.57 L235.35,578.49 L235.89,578.41 L236.42,578.33 L236.96,578.24 L237.49,578.16 L238.03,578.07 L238.57,577.98 L239.10,577.90 L239.64,577.81 L240.17,577.72 L240.71,577.63 L241.25,577.54 L241.78,577.45 L242.32,577.35 L242.85,577.26 L243.39,577.16 L243.93,577.07 L244.46,576.97 L245.00,576.87 L245.53,576.77 L246.07,576.67 L246.61,576.57 L247.14,576.47 L247.68,576.37 L248.22,576.26 L248.75,576.16 L249.29,576.05 L249.82,575.94 L250.36,575.84 L250.90,575.73 L251.43,575.62 L251.97,575.50 L252.50,575.39 L253.04,575.28 L253.58,575.16 L254.11,575.05 L254.65,574.93 L255.18,574.81 L255.72,574.69 L256.26,574.57 L256.79,574.45 L257.33,574.32 L257.86,574.20 L258.40,574.07 L258.94,573.95 L259.47,573.82 L260.01,573.69 L260.55,573.56 L261.08,573.43 L261.62,573.29 L262.15,573.16 L262.69,573.03 L263.23,572.89 L263.76,572.75 L264.30,572.61 L264.83,572.47 L265.37,572.33 L265.91,572.18 L266.44,572.04 L266.98,571.89 L267.51,571.75 L268.05,571.60 L268.59,571.45 L269.12,571.30 L269.66,571.14 L270.19,570.99 L270.73,570.83 L271.27,570.67 L271.80,570.52 L272.34,570.36 L272.88,570.19 L273.41,570.03 L273.95,569.87 L274.48,569.70 L275.02,569.53 L275.56,569.36 L276.09,569.19 L276.63,569.02 L277.16,568.85 L277.70,568.67 L278.24,568.50 L278.77,568.32 L279.31,568.14 L279.84,567.95 L280.38,567.77 L280.92,567.59 L281.45,567.40 L281.99,567.21 L282.53,567.02 L283.06,566.83 L283.60,566.64 L284.13,566.44 L284.67,566.25 L285.21,566.05 L285.74,565.85 L286.28,565.65 L286.81,565.44 L287.35,565.24 L287.89,565.03 L288.42,564.82 L288.96,564.61 L289.49,564.40 L290.03,564.18 L290.57,563.97 L291.10,563.75 L291.64,563.53 L292.17,563.31 L292.71,563.08 L293.25,562.86 L293.78,562.63 L294.32,562.40 L294.86,562.17 L295.39,561.94 L295.93,561.70 L296.46,561.47 L297.00,561.23 L297.54,560.99 L298.07,560.74 L298.61,560.50 L299.14,560.25 L299.68,560.00 L300.22,559.75 L300.75,559.50 L301.29,559.24 L301.82,558.98 L302.36,558.72 L302.90,558.46 L303.43,558.20 L303.97,557.93 L304.50,557.66 L305.04,557.39 L305.58,557.12 L306.11,556.85 L306.65,556.57 L307.19,556.29 L307.72,556.01 L308.26,555.73 L308.79,555.44 L309.33,555.15 L309.87,554.86 L310.40,554.57 L310.94,554.27 L311.47,553.97 L312.01,553.67 L312.55,553.37 L313.08,553.07 L313.62,552.76 L314.15,552.45 L314.69,552.14 L315.23,551.82 L315.76,551.51 L316.30,551.19 L316.83,550.87 L317.37,550.54 L317.91,550.22 L318.44,549.89 L318.98,549.55 L319.52,549.22 L320.05,548.88 L320.59,548.54 L321.12,548.20 L321.66,547.86 L322.20,547.51 L322.73,547.16 L323.27,546.81 L323.80,546.45 L324.34,546.09 L324.88,545.73 L325.41,545.37 L325.95,545.00 L326.48,544.63 L327.02,544.26 L327.56,543.89 L328.09,543.51 L328.63,543.13 L329.16,542.75 L329.70,542.36 L330.24,541.97 L330.77,541.58 L331.31,541.19 L331.85,540.79 L332.38,540.39 L332.92,539.99 L333.45,539.58 L333.99,539.17 L334.53,538.76 L335.06,538.34 L335.60,537.93 L336.13,537.51 L336.67,537.08 L337.21,536.65 L337.74,536.22 L338.28,535.79 L338.81,535.35 L339.35,534.92 L339.89,534.47 L340.42,534.03 L340.96,533.58 L341.49,533.13 L342.03,532.67 L342.57,532.21 L343.10,531.75 L343.64,531.29 L344.18,530.82 L344.71,530.35 L345.25,529.87 L345.78,529.39 L346.32,528.91 L346.86,528.43 L347.39,527.94 L347.93,527.45 L348.46,526.95 L349.00,526.46 L349.54,525.95 L350.07,525.45 L350.61,524.94 L351.14,524.43 L351.68,523.91 L352.22,523.40 L352.75,522.87 L353.29,522.35 L353.83,521.82 L354.36,521.29 L354.90,520.75 L355.43,520.21 L355.97,519.67 L356.51,519.12 L357.04,518.57 L357.58,518.01 L358.11,517.46 L358.65,516.89 L359.19,516.33 L359.72,515.76 L360.26,515.19 L360.79,514.61 L361.33,514.03 L361.87,513.45 L362.40,512.86 L362.94,512.27 L363.47,511.67 L364.01,511.07 L364.55,510.47 L365.08,509.86 L365.62,509.25 L366.16,508.64 L366.69,508.02 L367.23,507.40 L367.76,506.77 L368.30,506.14 L368.84,505.51 L369.37,504.87 L369.91,504.23 L370.44,503.59 L370.98,502.94 L371.52,502.28 L372.05,501.63 L372.59,500.96 L373.12,500.30 L373.66,499.63 L374.20,498.96 L374.73,498.28 L375.27,497.60 L375.80,496.91 L376.34,496.22 L376.88,495.53 L377.41,494.83 L377.95,494.13 L378.49,493.42 L379.02,492.71 L379.56,491.99 L380.09,491.28 L380.63,490.55 L381.17,489.83 L381.70,489.09 L382.24,488.36 L382.77,487.62 L383.31,486.87 L383.85,486.13 L384.38,485.37 L384.92,484.62 L385.45,483.86 L385.99,483.09 L386.53,482.32 L387.06,481.55 L387.60,480.77 L388.13,479.99 L388.67,479.20 L389.21,478.41 L389.74,477.61 L390.28,476.81 L390.82,476.01 L391.35,475.20 L391.89,474.39 L392.42,473.57 L392.96,472.75 L393.50,471.92 L394.03,471.09 L394.57,470.26 L395.10,469.42 L395.64,468.58 L396.18,467.73 L396.71,466.88 L397.25,466.02 L397.78,465.16 L398.32,464.29 L398.86,463.42 L399.39,462.55 L399.93,461.67 L400.46,460.79 L401.00,459.90 L401.54,459.01 L402.07,458.11 L402.61,457.21 L403.15,456.31 L403.68,455.40 L404.22,454.48 L404.75,453.56 L405.29,452.64 L405.83,451.71 L406.36,450.78 L406.90,449.85 L407.43,448.91 L407.97,447.96 L408.51,447.01 L409.04,446.06 L409.58,445.10 L410.11,444.14 L410.65,443.17 L411.19,442.20 L411.72,441.22 L412.26,440.24 L412.80,439.26 L413.33,438.27 L413.87,437.28 L414.40,436.28 L414.94,435.28 L415.48,434.27 L416.01,433.26 L416.55,432.24 L417.08,431.22 L417.62,430.20 L418.16,429.17 L418.69,428.14 L419.23,427.10 L419.76,426.06 L420.30,425.02 L420.84,423.97 L421.37,422.91 L421.91,421.86 L422.44,420.79 L422.98,419.73 L423.52,418.66 L424.05,417.58 L424.59,416.50 L425.13,415.42 L425.66,414.33 L426.20,413.24 L426.73,412.15 L427.27,411.05 L427.81,409.94 L428.34,408.84 L428.88,407.73 L429.41,406.61 L429.95,405.49 L430.49,404.37 L431.02,403.24 L431.56,402.11 L432.09,400.97 L432.63,399.83 L433.17,398.69 L433.70,397.54 L434.24,396.39 L434.77,395.24 L435.31,394.08 L435.85,392.92 L436.38,391.75 L436.92,390.59 L437.46,389.41 L437.99,388.24 L438.53,387.06 L439.06,385.87 L439.60,384.69 L440.14,383.49 L440.67,382.30 L441.21,381.10 L441.74,379.90 L442.28,378.70 L442.82,377.49 L443.35,376.28 L443.89,375.06 L444.42,373.85 L444.96,372.63 L445.50,371.40 L446.03,370.17 L446.57,368.94 L447.10,367.71 L447.64,366.47 L448.18,365.24 L448.71,363.99 L449.25,362.75 L449.79,361.50 L450.32,360.25 L450.86,359.00 L451.39,357.74 L451.93,356.48 L452.47,355.22 L453.00,353.95 L453.54,352.69 L454.07,351.42 L454.61,350.14 L455.15,348.87 L455.68,347.59 L456.22,346.31 L456.75,345.03 L457.29,343.75 L457.83,342.46 L458.36,341.17 L458.90,339.88 L459.43,338.59 L459.97,337.30 L460.51,336.00 L461.04,334.70 L461.58,333.40 L462.12,332.10 L462.65,330.80 L463.19,329.49 L463.72,328.19 L464.26,326.88 L464.80,325.57 L465.33,324.26 L465.87,322.94 L466.40,321.63 L466.94,320.31 L467.48,319.00 L468.01,317.68 L468.55,316.36 L469.08,315.04 L469.62,313.72 L470.16,312.40 L470.69,311.07 L471.23,309.75 L471.77,308.43 L472.30,307.10 L472.84,305.78 L473.37,304.45 L473.91,303.12 L474.45,301.80 L474.98,300.47 L475.52,299.14 L476.05,297.81 L476.59,296.49 L477.13,295.16 L477.66,293.83 L478.20,292.50 L478.73,291.17 L479.27,289.84 L479.81,288.52 L480.34,287.19 L480.88,285.86 L481.41,284.54 L481.95,283.21 L482.49,281.89 L483.02,280.56 L483.56,279.24 L484.10,277.91 L484.63,276.59 L485.17,275.27 L485.70,273.95 L486.24,272.63 L486.78,271.31 L487.31,270.00 L487.85,268.68 L488.38,267.37 L488.92,266.06 L489.46,264.74 L489.99,263.44 L490.53,262.13 L491.06,260.82 L491.60,259.52 L492.14,258.22 L492.67,256.92 L493.21,255.62 L493.74,254.32 L494.28,253.03 L494.82,251.74 L495.35,250.45 L495.89,249.16 L496.43,247.88 L496.96,246.60 L497.50,245.32 L498.03,244.05 L498.57,242.77 L499.11,241.50 L499.64,240.24 L500.18,238.97 L500.71,237.71 L501.25,236.45 L501.79,235.20 L502.32,233.95 L502.86,232.70 L503.39,231.46 L503.93,230.22 L504.47,228.98 L505.00,227.75 L505.54,226.52 L506.07,225.30 L506.61,224.08 L507.15,222.86 L507.68,221.65 L508.22,220.44 L508.76,219.24 L509.29,218.04 L509.83,216.84 L510.36,215.65 L510.90,214.46 L511.44,213.28 L511.97,212.11 L512.51,210.93 L513.04,209.77 L513.58,208.60 L514.12,207.45 L514.65,206.30 L515.19,205.15 L515.72,204.01 L516.26,202.87 L516.80,201.74 L517.33,200.61 L517.87,199.49 L518.40,198.38 L518.94,197.27 L519.48,196.17 L520.01,195.07 L520.55,193.98 L521.09,192.89 L521.62,191.81 L522.16,190.74 L522.69,189.67 L523.23,188.61 L523.77,187.56 L524.30,186.51 L524.84,185.47 L525.37,184.43 L525.91,183.40 L526.45,182.38 L526.98,181.36 L527.52,180.35 L528.05,179.35 L528.59,178.35 L529.13,177.36 L529.66,176.38 L530.20,175.40 L530.74,174.43 L531.27,173.47 L531.81,172.52 L532.34,171.57 L532.88,170.63 L533.42,169.70 L533.95,168.77 L534.49,167.85 L535.02,166.94 L535.56,166.03 L536.10,165.14 L536.63,164.25 L537.17,163.37 L537.70,162.49 L538.24,161.63 L538.78,160.77 L539.31,159.92 L539.85,159.07 L540.38,158.24 L540.92,157.41 L541.46,156.59 L541.99,155.77 L542.53,154.97 L543.07,154.17 L543.60,153.38 L544.14,152.60 L544.67,151.83 L545.21,151.06 L545.75,150.31 L546.28,149.56 L546.82,148.82 L547.35,148.09 L547.89,147.36 L548.43,146.64 L548.96,145.94 L549.50,145.24 L550.03,144.54 L550.57,143.86 L551.11,143.18 L551.64,142.52 L552.18,141.86 L552.71,141.21 L553.25,140.56 L553.79,139.93 L554.32,139.30 L554.86,138.69 L555.40,138.08 L555.93,137.48 L556.47,136.88 L557.00,136.30 L557.54,135.72 L558.08,135.16 L558.61,134.60 L559.15,134.04 L559.68,133.50 L560.22,132.97 L560.76,132.44 L561.29,131.92 L561.83,131.41 L562.36,130.91 L562.90,130.42 L563.44,129.93 L563.97,129.46 L564.51,128.99 L565.04,128.53 L565.58,128.08 L566.12,127.63 L566.65,127.20 L567.19,126.77 L567.73,126.35 L568.26,125.94 L568.80,125.53 L569.33,125.14 L569.87,124.75 L570.41,124.37 L570.94,124.00 L571.48,123.64 L572.01,123.28 L572.55,122.93 L573.09,122.60 L573.62,122.26 L574.16,121.94 L574.69,121.62 L575.23,121.32 L575.77,121.01 L576.30,120.72 L576.84,120.44 L577.37,120.16 L577.91,119.89 L578.45,119.63 L578.98,119.37 L579.52,119.12 L580.06,118.88 L580.59,118.65 L581.13,118.43 L581.66,118.21 L582.20,118.00 L582.74,117.79 L583.27,117.60 L583.81,117.41 L584.34,117.23 L584.88,117.05 L585.42,116.88 L585.95,116.72 L586.49,116.57 L587.02,116.42 L587.56,116.28 L588.10,116.15 L588.63,116.02 L589.17,115.90 L589.71,115.78 L590.24,115.68 L590.78,115.58 L591.31,115.48 L591.85,115.39 L592.39,115.31 L592.92,115.24 L593.46,115.17 L593.99,115.10 L594.53,115.05 L595.07,115.00 L595.60,114.95 L596.14,114.91 L596.67,114.88 L597.21,114.85 L597.75,114.83 L598.28,114.82 L598.82,114.80 L599.35,114.80 L599.53,114.80 L599.89,114.80 L600.43,114.81 L600.96,114.82 L601.50,114.84 L602.04,114.86 L602.57,114.89 L603.11,114.92 L603.64,114.96 L604.18,115.00 L604.72,115.05 L605.25,115.10 L605.79,115.16 L606.32,115.22 L606.86,115.29 L607.40,115.36 L607.93,115.44 L608.47,115.52 L609.00,115.60 L609.54,115.69 L610.08,115.79 L610.61,115.89 L611.15,115.99 L611.68,116.10 L612.22,116.21 L612.76,116.32 L613.29,116.44 L613.83,116.56 L614.37,116.69 L614.90,116.82 L615.44,116.95 L615.97,117.09 L616.51,117.23 L617.05,117.38 L617.58,117.53 L618.12,117.68 L618.65,117.84 L619.19,117.99 L619.73,118.16 L620.26,118.32 L620.80,118.49 L621.33,118.66 L621.87,118.84 L622.41,119.01 L622.94,119.19 L623.48,119.38 L624.01,119.56 L624.55,119.75 L625.09,119.94 L625.62,120.13 L626.16,120.33 L626.70,120.53 L627.23,120.73 L627.77,120.93 L628.30,121.14 L628.84,121.35 L629.38,121.56 L629.91,121.77 L630.45,121.98 L630.98,122.20 L631.52,122.42 L632.06,122.64 L632.59,122.86 L633.13,123.08 L633.66,123.31 L634.20,123.54 L634.74,123.77 L635.27,124.00 L635.81,124.23 L636.34,124.46 L636.88,124.70 L637.42,124.93 L637.95,125.17 L638.49,125.41 L639.03,125.65 L639.56,125.89 L640.10,126.13 L640.63,126.38 L641.17,126.62 L641.71,126.87 L642.24,127.11 L642.78,127.36 L643.31,127.61 L643.85,127.86 L644.39,128.11 L644.92,128.36 L645.46,128.61 L645.99,128.86 L646.53,129.12 L647.07,129.37 L647.60,129.62 L648.14,129.88 L648.67,130.13 L649.21,130.39 L649.75,130.64 L650.28,130.90 L650.82,131.16 L651.36,131.41 L651.89,131.67 L652.43,131.93 L652.96,132.18 L653.50,132.44 L654.04,132.70 L654.57,132.95 L655.11,133.21 L655.64,133.47 L656.18,133.72 L656.72,133.98 L657.25,134.24 L657.79,134.49 L658.32,134.75 L658.86,135.01 L659.40,135.26 L659.93,135.52 L660.47,135.77 L661.01,136.03 L661.54,136.28 L662.08,136.54 L662.61,136.79 L663.15,137.04 L663.69,137.30 L664.22,137.55 L664.76,137.80 L665.29,138.05 L665.83,138.30 L666.37,138.55 L666.90,138.80 L667.44,139.05 L667.97,139.30 L668.51,139.54 L669.05,139.79 L669.58,140.04 L670.12,140.28 L670.65,140.52 L671.19,140.77 L671.73,141.01 L672.26,141.25 L672.80,141.49 L673.34,141.73 L673.87,141.97 L674.41,142.21 L674.94,142.45 L675.48,142.68 L676.02,142.92 L676.55,143.15 L677.09,143.38 L677.62,143.62 L678.16,143.85 L678.70,144.08 L679.23,144.30 L679.77,144.53 L680.30,144.76 L680.84,144.98 L681.38,145.21 L681.91,145.43 L682.45,145.65 L682.98,145.88 L683.52,146.10 L684.06,146.31 L684.59,146.53 L685.13,146.75 L685.67,146.96 L686.20,147.18 L686.74,147.39 L687.27,147.60 L687.81,147.81 L688.35,148.02 L688.88,148.23 L689.42,148.43 L689.95,148.64 L690.49,148.84 L691.03,149.04 L691.56,149.24 L692.10,149.44 L692.63,149.64 L693.17,149.84 L693.71,150.04 L694.24,150.23 L694.78,150.42 L695.31,150.61 L695.85,150.81 L696.39,150.99 L696.92,151.18 L697.46,151.37 L698.00,151.55 L698.53,151.74 L699.07,151.92 L699.60,152.10 L700.14,152.28 L700.68,152.46 L701.21,152.64 L701.75,152.81 L702.28,152.99 L702.82,153.16 L703.36,153.33 L703.89,153.50 L704.43,153.67 L704.96,153.84 L705.50,154.00 L706.04,154.17 L706.57,154.33 L707.11,154.49 L707.64,154.65 L708.18,154.81 L708.72,154.97 L709.25,155.13 L709.79,155.28 L710.33,155.44 L710.86,155.59 L711.40,155.74 L711.93,155.89 L712.47,156.04 L713.01,156.18 L713.54,156.33 L714.08,156.47 L714.61,156.62 L715.15,156.76 L715.69,156.90 L716.22,157.04 L716.76,157.18 L717.29,157.31 L717.83,157.45 L718.37,157.58 L718.90,157.71 L719.44,157.84 L719.98,157.97 L720.51,158.10 L721.05,158.23 L721.58,158.36 L722.12,158.48 L722.66,158.61 L723.19,158.73 L723.73,158.85 L724.26,158.97 L724.80,159.09 L725.34,159.20 L725.87,159.32 L726.41,159.43 L726.94,159.55 L727.48,159.66 L728.02,159.77 L728.55,159.88 L729.09,159.99 L729.62,160.10 L730.16,160.20 L730.70,160.31 L731.23,160.41 L731.77,160.52 L732.31,160.62 L732.84,160.72 L733.38,160.82 L733.91,160.92 L734.45,161.01 L734.99,161.11 L735.52,161.20 L736.06,161.30 L736.59,161.39 L737.13,161.48 L737.67,161.57 L738.20,161.66 L738.74,161.75 L739.27,161.84 L739.81,161.92 L740.35,162.01 L740.88,162.09 L741.42,162.18 L741.95,162.26 L742.49,162.34 L743.03,162.42 L743.56,162.50 L744.10,162.57 L744.64,162.65 L745.17,162.73 L745.71,162.80 L746.24,162.88 L746.78,162.95 L747.32,163.02 L747.85,163.09 L748.39,163.16 L748.92,163.23 L749.46,163.30 L750.00,163.37 L750.53,163.43 L751.07,163.50 L751.60,163.56 L752.14,163.63 L752.68,163.69 L753.21,163.75 L753.75,163.81 L754.28,163.87 L754.82,163.93 L755.36,163.99 L755.89,164.05 L756.43,164.11 L756.97,164.16 L757.50,164.22 L758.04,164.27 L758.57,164.33 L759.11,164.38 L759.65,164.43 L760.18,164.48 L760.72,164.53 L761.25,164.58 L761.79,164.63 L762.33,164.68 L762.86,164.73 L763.40,164.77 L763.93,164.82 L764.47,164.87 L765.01,164.91 L765.54,164.95 L766.08,165.00 L766.61,165.04 L767.15,165.08 L767.69,165.12 L768.22,165.16 L768.76,165.20 L769.30,165.24 L769.83,165.28 L770.37,165.32 L770.90,165.36 L771.44,165.39 L771.98,165.43 L772.51,165.46 L773.05,165.50 L773.58,165.53 L774.12,165.57 L774.66,165.60 L775.19,165.63 L775.73,165.66 L776.26,165.70 L776.80,165.73 L777.34,165.76 L777.87,165.79 L778.41,165.82 L778.95,165.84 L779.48,165.87 L780.02,165.90 L780.55,165.93 L781.09,165.95 L781.63,165.98 L782.16,166.01 L782.70,166.03 L783.23,166.05 L783.77,166.08 L784.31,166.10 L784.84,166.13 L785.38,166.15 L785.91,166.17 L786.45,166.19 L786.99,166.21 L787.52,166.23 L788.06,166.26 L788.59,166.28 L789.13,166.30 L789.67,166.31 L790.20,166.33 L790.74,166.35 L791.28,166.37 L791.81,166.39 L792.35,166.41 L792.88,166.42 L793.42,166.44 L793.96,166.46 L794.49,166.47 L795.03,166.49 L795.56,166.50 L796.10,166.52 L796.64,166.53 L797.17,166.55 L797.71,166.56 L798.24,166.57 L798.78,166.59 L799.32,166.60 L799.85,166.61 L800.39,166.62 L800.92,166.64 L801.46,166.65 L802.00,166.66 L802.53,166.67 L803.07,166.68 L803.61,166.69 L804.14,166.70 L804.68,166.71 L805.21,166.72 L805.75,166.73 L806.29,166.74 L806.82,166.75 L807.36,166.76 L807.89,166.77 L808.43,166.78 L808.97,166.78 L809.50,166.79 L810.04,166.80 L810.57,166.81 L811.11,166.81 L811.65,166.82 L812.18,166.83 L812.72,166.83 L813.25,166.84 L813.79,166.85 L814.33,166.85 L814.86,166.86 L815.40,166.86 L815.94,166.87 L816.47,166.88 L817.01,166.88 L817.54,166.89 L818.08,166.89 L818.62,166.90 L819.15,166.90 L819.69,166.90 L820.22,166.91 L820.76,166.91 L821.30,166.92 L821.83,166.92 L822.37,166.92 L822.90,166.93 L823.44,166.93 L823.98,166.93 L824.51,166.94 L825.05,166.94 L825.58,166.94 L826.12,166.95 L826.66,166.95 L827.19,166.95 L827.73,166.95 L828.27,166.96 L828.80,166.96 L829.34,166.96 L829.87,166.96 L830.41,166.97 L830.95,166.97 L831.48,166.97 L832.02,166.97 L832.55,166.97 L833.09,166.97 L833.63,166.98 L834.16,166.98 L834.70,166.98 L835.23,166.98 L835.77,166.98 L836.31,166.98 L836.84,166.98 L837.38,166.99 L837.92,166.99 L838.45,166.99 L838.99,166.99 L839.52,166.99 L840.06,166.99 L840.60,166.99 L841.13,166.99 L841.67,166.99 L842.20,166.99 L842.74,166.99 L843.28,166.99 L843.81,166.99 L844.35,166.99 L844.88,167.00 L845.42,167.00 L845.96,167.00 L846.49,167.00 L847.03,167.00 L847.56,167.00 L848.10,167.00 L848.64,167.00 L849.17,167.00 L849.71,167.00 L850.25,167.00 L850.78,167.00 L851.32,167.00 L851.85,167.00 L852.39,167.00 L852.93,167.00 L853.46,167.00 L854.00,167.00 L854.53,167.00 L855.07,167.00 L855.61,167.00 L856.14,167.00 L856.68,167.00 L857.21,167.00 L857.75,167.00 L858.29,167.00 L858.82,167.00 L859.36,167.00 L859.89,167.00 L860.43,167.00 L860.97,167.00 L861.50,167.00 L862.04,167.00 L862.58,167.00 L863.11,167.00 L863.65,167.00 L864.18,167.00 L864.72,167.00 L865.26,167.00 L865.79,167.00 L866.33,167.00 L866.86,167.00 L867.40,167.00" fill="none" stroke="#f00" stroke-width="5" stroke-dasharray="12 21.45" stroke-dashoffset="-2.4" stroke-linecap="round" stroke-linejoin="round"/>
<path d="M63.80,584.60 L64.34,584.60 L64.87,584.60 L65.41,584.60 L65.94,584.59 L66.48,584.59 L67.02,584.58 L67.55,584.58 L68.09,584.57 L68.62,584.56 L69.16,584.55 L69.70,584.54 L70.23,584.53 L70.77,584.52 L71.31,584.50 L71.84,584.49 L72.38,584.48 L72.91,584.46 L73.45,584.44 L73.99,584.42 L74.52,584.41 L75.06,584.39 L75.59,584.36 L76.13,584.34 L76.67,584.32 L77.20,584.30 L77.74,584.27 L78.27,584.25 L78.81,584.22 L79.35,584.19 L79.88,584.16 L80.42,584.13 L80.95,584.10 L81.49,584.07 L82.03,584.04 L82.56,584.00 L83.10,583.97 L83.64,583.93 L84.17,583.90 L84.71,583.86 L85.24,583.82 L85.78,583.78 L86.32,583.74 L86.85,583.70 L87.39,583.66 L87.92,583.61 L88.46,583.57 L89.00,583.52 L89.53,583.48 L90.07,583.43 L90.60,583.38 L91.14,583.33 L91.68,583.28 L92.21,583.23 L92.75,583.18 L93.28,583.13 L93.82,583.07 L94.36,583.02 L94.89,582.96 L95.43,582.90 L95.97,582.84 L96.50,582.79 L97.04,582.73 L97.57,582.66 L98.11,582.60 L98.65,582.54 L99.18,582.47 L99.72,582.41 L100.25,582.34 L100.79,582.28 L101.33,582.21 L101.86,582.14 L102.40,582.07 L102.93,582.00 L103.47,581.93 L104.01,581.85 L104.54,581.78 L105.08,581.70 L105.62,581.63 L106.15,581.55 L106.69,581.47 L107.22,581.39 L107.76,581.31 L108.30,581.23 L108.83,581.15 L109.37,581.07 L109.90,580.98 L110.44,580.90 L110.98,580.81 L111.51,580.73 L112.05,580.64 L112.58,580.55 L113.12,580.46 L113.66,580.37 L114.19,580.27 L114.73,580.18 L115.26,580.09 L115.80,579.99 L116.34,579.90 L116.87,579.80 L117.41,579.70 L117.95,579.60 L118.48,579.50 L119.02,579.40 L119.55,579.30 L120.09,579.19 L120.63,579.09 L121.16,578.98 L121.70,578.88 L122.23,578.77 L122.77,578.66 L123.31,578.55 L123.84,578.44 L124.38,578.33 L124.91,578.22 L125.45,578.11 L125.99,577.99 L126.52,577.88 L127.06,577.76 L127.59,577.64 L128.13,577.52 L128.67,577.40 L129.20,577.28 L129.74,577.16 L130.28,577.04 L130.81,576.91 L131.35,576.79 L131.88,576.66 L132.42,576.54 L132.96,576.41 L133.49,576.28 L134.03,576.15 L134.56,576.02 L135.10,575.88 L135.64,575.75 L136.17,575.62 L136.71,575.48 L137.24,575.35 L137.78,575.21 L138.32,575.07 L138.85,574.93 L139.39,574.79 L139.92,574.65 L140.46,574.50 L141.00,574.36 L141.53,574.22 L142.07,574.07 L142.61,573.92 L143.14,573.78 L143.68,573.63 L144.21,573.48 L144.75,573.32 L145.29,573.17 L145.82,573.02 L146.36,572.86 L146.89,572.71 L147.43,572.55 L147.97,572.39 L148.50,572.24 L149.04,572.08 L149.57,571.91 L150.11,571.75 L150.65,571.59 L151.18,571.43 L151.72,571.26 L152.25,571.09 L152.79,570.93 L153.33,570.76 L153.86,570.59 L154.40,570.42 L154.94,570.25 L155.47,570.07 L156.01,569.90 L156.54,569.72 L157.08,569.55 L157.62,569.37 L158.15,569.19 L158.69,569.01 L159.22,568.83 L159.76,568.65 L160.30,568.47 L160.83,568.28 L161.37,568.10 L161.90,567.91 L162.44,567.72 L162.98,567.53 L163.51,567.35 L164.05,567.15 L164.59,566.96 L165.12,566.77 L165.66,566.58 L166.19,566.38 L166.73,566.18 L167.27,565.99 L167.80,565.79 L168.34,565.59 L168.87,565.39 L169.41,565.19 L169.95,564.98 L170.48,564.78 L171.02,564.57 L171.55,564.37 L172.09,564.16 L172.63,563.95 L173.16,563.74 L173.70,563.53 L174.23,563.32 L174.77,563.10 L175.31,562.89 L175.84,562.67 L176.38,562.45 L176.92,562.24 L177.45,562.02 L177.99,561.80 L178.52,561.57 L179.06,561.35 L179.60,561.13 L180.13,560.90 L180.67,560.68 L181.20,560.45 L181.74,560.22 L182.28,559.99 L182.81,559.76 L183.35,559.53 L183.88,559.29 L184.42,559.06 L184.96,558.82 L185.49,558.59 L186.03,558.35 L186.56,558.11 L187.10,557.87 L187.64,557.63 L188.17,557.38 L188.71,557.14 L189.25,556.89 L189.78,556.65 L190.32,556.40 L190.85,556.15 L191.39,555.90 L191.93,555.65 L192.46,555.39 L193.00,555.14 L193.53,554.89 L194.07,554.63 L194.61,554.37 L195.14,554.11 L195.68,553.85 L196.21,553.59 L196.75,553.33 L197.29,553.07 L197.82,552.80 L198.36,552.53 L198.89,552.27 L199.43,552.00 L199.97,551.73 L200.50,551.46 L201.04,551.18 L201.58,550.91 L202.11,550.63 L202.65,550.36 L203.18,550.08 L203.72,549.80 L204.26,549.52 L204.79,549.24 L205.33,548.96 L205.86,548.67 L206.40,548.39 L206.94,548.10 L207.47,547.81 L208.01,547.53 L208.54,547.24 L209.08,546.94 L209.62,546.65 L210.15,546.36 L210.69,546.06 L211.22,545.76 L211.76,545.47 L212.30,545.17 L212.83,544.87 L213.37,544.56 L213.91,544.26 L214.44,543.96 L214.98,543.65 L215.51,543.34 L216.05,543.03 L216.59,542.72 L217.12,542.41 L217.66,542.10 L218.19,541.79 L218.73,541.47 L219.27,541.16 L219.80,540.84 L220.34,540.52 L220.87,540.20 L221.41,539.88 L221.95,539.55 L222.48,539.23 L223.02,538.90 L223.56,538.58 L224.09,538.25 L224.63,537.92 L225.16,537.59 L225.70,537.25 L226.24,536.92 L226.77,536.58 L227.31,536.25 L227.84,535.91 L228.38,535.57 L228.92,535.23 L229.45,534.89 L229.99,534.54 L230.52,534.20 L231.06,533.85 L231.60,533.50 L232.13,533.15 L232.67,532.80 L233.20,532.45 L233.74,532.10 L234.28,531.74 L234.81,531.39 L235.35,531.03 L235.89,530.67 L236.42,530.31 L236.96,529.95 L237.49,529.58 L238.03,529.22 L238.57,528.85 L239.10,528.48 L239.64,528.12 L240.17,527.75 L240.71,527.37 L241.25,527.00 L241.78,526.63 L242.32,526.25 L242.85,525.87 L243.39,525.49 L243.93,525.11 L244.46,524.73 L245.00,524.35 L245.53,523.96 L246.07,523.58 L246.61,523.19 L247.14,522.80 L247.68,522.41 L248.22,522.01 L248.75,521.62 L249.29,521.23 L249.82,520.83 L250.36,520.43 L250.90,520.03 L251.43,519.63 L251.97,519.23 L252.50,518.82 L253.04,518.42 L253.58,518.01 L254.11,517.60 L254.65,517.19 L255.18,516.78 L255.72,516.37 L256.26,515.95 L256.79,515.54 L257.33,515.12 L257.86,514.70 L258.40,514.28 L258.94,513.86 L259.47,513.43 L260.01,513.01 L260.55,512.58 L261.08,512.15 L261.62,511.72 L262.15,511.29 L262.69,510.86 L263.23,510.42 L263.76,509.99 L264.30,509.55 L264.83,509.11 L265.37,508.67 L265.91,508.23 L266.44,507.78 L266.98,507.34 L267.51,506.89 L268.05,506.44 L268.59,505.99 L269.12,505.54 L269.66,505.09 L270.19,504.63 L270.73,504.18 L271.27,503.72 L271.80,503.26 L272.34,502.80 L272.88,502.33 L273.41,501.87 L273.95,501.40 L274.48,500.94 L275.02,500.47 L275.56,500.00 L276.09,499.52 L276.63,499.05 L277.16,498.57 L277.70,498.10 L278.24,497.62 L278.77,497.14 L279.31,496.65 L279.84,496.17 L280.38,495.68 L280.92,495.20 L281.45,494.71 L281.99,494.22 L282.53,493.73 L283.06,493.23 L283.60,492.74 L284.13,492.24 L284.67,491.74 L285.21,491.24 L285.74,490.74 L286.28,490.24 L286.81,489.73 L287.35,489.22 L287.89,488.71 L288.42,488.20 L288.96,487.69 L289.49,487.18 L290.03,486.66 L290.57,486.15 L291.10,485.63 L291.64,485.11 L292.17,484.59 L292.71,484.06 L293.25,483.54 L293.78,483.01 L294.32,482.48 L294.86,481.95 L295.39,481.42 L295.93,480.88 L296.46,480.35 L297.00,479.81 L297.54,479.27 L298.07,478.73 L298.61,478.19 L299.14,477.64 L299.68,477.10 L300.22,476.55 L300.75,476.00 L301.29,475.45 L301.82,474.90 L302.36,474.34 L302.90,473.79 L303.43,473.23 L303.97,472.67 L304.50,472.11 L305.04,471.55 L305.58,470.98 L306.11,470.41 L306.65,469.85 L307.19,469.27 L307.72,468.70 L308.26,468.13 L308.79,467.55 L309.33,466.98 L309.87,466.40 L310.40,465.82 L310.94,465.23 L311.47,464.65 L312.01,464.06 L312.55,463.48 L313.08,462.89 L313.62,462.30 L314.15,461.70 L314.69,461.11 L315.23,460.51 L315.76,459.91 L316.30,459.31 L316.83,458.71 L317.37,458.11 L317.91,457.50 L318.44,456.90 L318.98,456.29 L319.52,455.68 L320.05,455.06 L320.59,454.45 L321.12,453.83 L321.66,453.22 L322.20,452.60 L322.73,451.97 L323.27,451.35 L323.80,450.73 L324.34,450.10 L324.88,449.47 L325.41,448.84 L325.95,448.21 L326.48,447.57 L327.02,446.94 L327.56,446.30 L328.09,445.66 L328.63,445.02 L329.16,444.38 L329.70,443.73 L330.24,443.09 L330.77,442.44 L331.31,441.79 L331.85,441.14 L332.38,440.48 L332.92,439.83 L333.45,439.17 L333.99,438.51 L334.53,437.85 L335.06,437.19 L335.60,436.52 L336.13,435.86 L336.67,435.19 L337.21,434.52 L337.74,433.85 L338.28,433.17 L338.81,432.50 L339.35,431.82 L339.89,431.14 L340.42,430.46 L340.96,429.78 L341.49,429.09 L342.03,428.41 L342.57,427.72 L343.10,427.03 L343.64,426.34 L344.18,425.64 L344.71,424.95 L345.25,424.25 L345.78,423.55 L346.32,422.85 L346.86,422.15 L347.39,421.45 L347.93,420.74 L348.46,420.03 L349.00,419.32 L349.54,418.61 L350.07,417.90 L350.61,417.18 L351.14,416.47 L351.68,415.75 L352.22,415.03 L352.75,414.31 L353.29,413.58 L353.83,412.86 L354.36,412.13 L354.90,411.40 L355.43,410.67 L355.97,409.94 L356.51,409.21 L357.04,408.47 L357.58,407.73 L358.11,406.99 L358.65,406.25 L359.19,405.51 L359.72,404.76 L360.26,404.02 L360.79,403.27 L361.33,402.52 L361.87,401.77 L362.40,401.01 L362.94,400.26 L363.47,399.50 L364.01,398.74 L364.55,397.98 L365.08,397.22 L365.62,396.46 L366.16,395.69 L366.69,394.93 L367.23,394.16 L367.76,393.39 L368.30,392.61 L368.84,391.84 L369.37,391.06 L369.91,390.29 L370.44,389.51 L370.98,388.73 L371.52,387.95 L372.05,387.16 L372.59,386.38 L373.12,385.59 L373.66,384.80 L374.20,384.01 L374.73,383.22 L375.27,382.43 L375.80,381.63 L376.34,380.83 L376.88,380.03 L377.41,379.23 L377.95,378.43 L378.49,377.63 L379.02,376.83 L379.56,376.02 L380.09,375.21 L380.63,374.40 L381.17,373.59 L381.70,372.78 L382.24,371.96 L382.77,371.15 L383.31,370.33 L383.85,369.51 L384.38,368.69 L384.92,367.87 L385.45,367.05 L385.99,366.22 L386.53,365.40 L387.06,364.57 L387.60,363.74 L388.13,362.91 L388.67,362.08 L389.21,361.24 L389.74,360.41 L390.28,359.57 L390.82,358.73 L391.35,357.89 L391.89,357.05 L392.42,356.21 L392.96,355.37 L393.50,354.52 L394.03,353.68 L394.57,352.83 L395.10,351.98 L395.64,351.13 L396.18,350.28 L396.71,349.43 L397.25,348.57 L397.78,347.72 L398.32,346.86 L398.86,346.00 L399.39,345.14 L399.93,344.28 L400.46,343.42 L401.00,342.56 L401.54,341.70 L402.07,340.83 L402.61,339.96 L403.15,339.10 L403.68,338.23 L404.22,337.36 L404.75,336.49 L405.29,335.61 L405.83,334.74 L406.36,333.87 L406.90,332.99 L407.43,332.11 L407.97,331.24 L408.51,330.36 L409.04,329.48 L409.58,328.60 L410.11,327.72 L410.65,326.83 L411.19,325.95 L411.72,325.06 L412.26,324.18 L412.80,323.29 L413.33,322.40 L413.87,321.52 L414.40,320.63 L414.94,319.74 L415.48,318.85 L416.01,317.95 L416.55,317.06 L417.08,316.17 L417.62,315.27 L418.16,314.38 L418.69,313.48 L419.23,312.59 L419.76,311.69 L420.30,310.79 L420.84,309.89 L421.37,308.99 L421.91,308.09 L422.44,307.19 L422.98,306.29 L423.52,305.39 L424.05,304.48 L424.59,303.58 L425.13,302.68 L425.66,301.77 L426.20,300.87 L426.73,299.96 L427.27,299.06 L427.81,298.15 L428.34,297.24 L428.88,296.34 L429.41,295.43 L429.95,294.52 L430.49,293.61 L431.02,292.70 L431.56,291.80 L432.09,290.89 L432.63,289.98 L433.17,289.07 L433.70,288.16 L434.24,287.25 L434.77,286.34 L435.31,285.43 L435.85,284.51 L436.38,283.60 L436.92,282.69 L437.46,281.78 L437.99,280.87 L438.53,279.96 L439.06,279.05 L439.60,278.14 L440.14,277.22 L440.67,276.31 L441.21,275.40 L441.74,274.49 L442.28,273.58 L442.82,272.67 L443.35,271.76 L443.89,270.85 L444.42,269.94 L444.96,269.03 L445.50,268.12 L446.03,267.21 L446.57,266.30 L447.10,265.39 L447.64,264.48 L448.18,263.57 L448.71,262.67 L449.25,261.76 L449.79,260.85 L450.32,259.95 L450.86,259.04 L451.39,258.13 L451.93,257.23 L452.47,256.33 L453.00,255.42 L453.54,254.52 L454.07,253.62 L454.61,252.72 L455.15,251.81 L455.68,250.91 L456.22,250.02 L456.75,249.12 L457.29,248.22 L457.83,247.32 L458.36,246.43 L458.90,245.53 L459.43,244.64 L459.97,243.74 L460.51,242.85 L461.04,241.96 L461.58,241.07 L462.12,240.18 L462.65,239.29 L463.19,238.41 L463.72,237.52 L464.26,236.64 L464.80,235.75 L465.33,234.87 L465.87,233.99 L466.40,233.11 L466.94,232.23 L467.48,231.36 L468.01,230.48 L468.55,229.61 L469.08,228.74 L469.62,227.87 L470.16,227.00 L470.69,226.13 L471.23,225.26 L471.77,224.40 L472.30,223.53 L472.84,222.67 L473.37,221.81 L473.91,220.95 L474.45,220.10 L474.98,219.24 L475.52,218.39 L476.05,217.54 L476.59,216.69 L477.13,215.84 L477.66,215.00 L478.20,214.16 L478.73,213.32 L479.27,212.48 L479.81,211.64 L480.34,210.80 L480.88,209.97 L481.41,209.14 L481.95,208.31 L482.49,207.49 L483.02,206.66 L483.56,205.84 L484.10,205.02 L484.63,204.20 L485.17,203.39 L485.70,202.57 L486.24,201.76 L486.78,200.96 L487.31,200.15 L487.85,199.35 L488.38,198.55 L488.92,197.75 L489.46,196.96 L489.99,196.16 L490.53,195.37 L491.06,194.59 L491.60,193.80 L492.14,193.02 L492.67,192.24 L493.21,191.46 L493.74,190.69 L494.28,189.92 L494.82,189.15 L495.35,188.39 L495.89,187.63 L496.43,186.87 L496.96,186.11 L497.50,185.36 L498.03,184.61 L498.57,183.86 L499.11,183.12 L499.64,182.38 L500.18,181.64 L500.71,180.91 L501.25,180.18 L501.79,179.45 L502.32,178.72 L502.86,178.00 L503.39,177.29 L503.93,176.57 L504.47,175.86 L505.00,175.15 L505.54,174.45 L506.07,173.75 L506.61,173.05 L507.15,172.36 L507.68,171.67 L508.22,170.98 L508.76,170.30 L509.29,169.62 L509.83,168.94 L510.36,168.27 L510.90,167.60 L511.44,166.93 L511.97,166.27 L512.51,165.61 L513.04,164.96 L513.58,164.31 L514.12,163.67 L514.65,163.02 L515.19,162.38 L515.72,161.75 L516.26,161.12 L516.80,160.49 L517.33,159.87 L517.87,159.25 L518.40,158.64 L518.94,158.02 L519.48,157.42 L520.01,156.81 L520.55,156.22 L521.09,155.62 L521.62,155.03 L522.16,154.44 L522.69,153.86 L523.23,153.28 L523.77,152.71 L524.30,152.14 L524.84,151.57 L525.37,151.01 L525.91,150.45 L526.45,149.90 L526.98,149.35 L527.52,148.81 L528.05,148.27 L528.59,147.73 L529.13,147.20 L529.66,146.67 L530.20,146.15 L530.74,145.63 L531.27,145.11 L531.81,144.60 L532.34,144.10 L532.88,143.60 L533.42,143.10 L533.95,142.61 L534.49,142.12 L535.02,141.64 L535.56,141.16 L536.10,140.68 L536.63,140.21 L537.17,139.75 L537.70,139.28 L538.24,138.83 L538.78,138.37 L539.31,137.93 L539.85,137.48 L540.38,137.04 L540.92,136.61 L541.46,136.18 L541.99,135.75 L542.53,135.33 L543.07,134.92 L543.60,134.50 L544.14,134.10 L544.67,133.69 L545.21,133.30 L545.75,132.90 L546.28,132.51 L546.82,132.13 L547.35,131.75 L547.89,131.37 L548.43,131.00 L548.96,130.63 L549.50,130.27 L550.03,129.91 L550.57,129.56 L551.11,129.21 L551.64,128.87 L552.18,128.53 L552.71,128.19 L553.25,127.86 L553.79,127.54 L554.32,127.22 L554.86,126.90 L555.40,126.59 L555.93,126.28 L556.47,125.97 L557.00,125.68 L557.54,125.38 L558.08,125.09 L558.61,124.80 L559.15,124.52 L559.68,124.25 L560.22,123.97 L560.76,123.70 L561.29,123.44 L561.83,123.18 L562.36,122.93 L562.90,122.67 L563.44,122.43 L563.97,122.19 L564.51,121.95 L565.04,121.71 L565.58,121.49 L566.12,121.26 L566.65,121.04 L567.19,120.82 L567.73,120.61 L568.26,120.40 L568.80,120.20 L569.33,120.00 L569.87,119.80 L570.41,119.61 L570.94,119.42 L571.48,119.24 L572.01,119.06 L572.55,118.89 L573.09,118.71 L573.62,118.55 L574.16,118.38 L574.69,118.22 L575.23,118.07 L575.77,117.92 L576.30,117.77 L576.84,117.63 L577.37,117.49 L577.91,117.35 L578.45,117.22 L578.98,117.09 L579.52,116.97 L580.06,116.85 L580.59,116.73 L581.13,116.62 L581.66,116.51 L582.20,116.40 L582.74,116.30 L583.27,116.20 L583.81,116.11 L584.34,116.01 L584.88,115.93 L585.42,115.84 L585.95,115.76 L586.49,115.68 L587.02,115.61 L587.56,115.54 L588.10,115.47 L588.63,115.41 L589.17,115.35 L589.71,115.29 L590.24,115.24 L590.78,115.19 L591.31,115.14 L591.85,115.10 L592.39,115.06 L592.92,115.02 L593.46,114.98 L593.99,114.95 L594.53,114.92 L595.07,114.90 L595.60,114.88 L596.14,114.86 L596.67,114.84 L597.21,114.83 L597.75,114.82 L598.28,114.81 L598.82,114.80 L599.35,114.80 L599.53,114.80 L599.89,114.80 L600.43,114.80 L600.96,114.81 L601.50,114.82 L602.04,114.83 L602.57,114.84 L603.11,114.86 L603.64,114.88 L604.18,114.90 L604.72,114.92 L605.25,114.95 L605.79,114.98 L606.32,115.01 L606.86,115.04 L607.40,115.08 L607.93,115.12 L608.47,115.16 L609.00,115.20 L609.54,115.25 L610.08,115.29 L610.61,115.34 L611.15,115.39 L611.68,115.45 L612.22,115.50 L612.76,115.56 L613.29,115.62 L613.83,115.68 L614.37,115.75 L614.90,115.81 L615.44,115.88 L615.97,115.95 L616.51,116.02 L617.05,116.09 L617.58,116.17 L618.12,116.24 L618.65,116.32 L619.19,116.40 L619.73,116.48 L620.26,116.56 L620.80,116.65 L621.33,116.73 L621.87,116.82 L622.41,116.91 L622.94,117.00 L623.48,117.09 L624.01,117.19 L624.55,117.28 L625.09,117.38 L625.62,117.47 L626.16,117.57 L626.70,117.67 L627.23,117.77 L627.77,117.88 L628.30,117.98 L628.84,118.08 L629.38,118.19 L629.91,118.30 L630.45,118.41 L630.98,118.51 L631.52,118.62 L632.06,118.74 L632.59,118.85 L633.13,118.96 L633.66,119.07 L634.20,119.19 L634.74,119.30 L635.27,119.42 L635.81,119.54 L636.34,119.66 L636.88,119.77 L637.42,119.89 L637.95,120.01 L638.49,120.14 L639.03,120.26 L639.56,120.38 L640.10,120.50 L640.63,120.62 L641.17,120.75 L641.71,120.87 L642.24,121.00 L642.78,121.12 L643.31,121.25 L643.85,121.38 L644.39,121.50 L644.92,121.63 L645.46,121.76 L645.99,121.89 L646.53,122.01 L647.07,122.14 L647.60,122.27 L648.14,122.40 L648.67,122.53 L649.21,122.66 L649.75,122.79 L650.28,122.92 L650.82,123.05 L651.36,123.18 L651.89,123.31 L652.43,123.44 L652.96,123.57 L653.50,123.70 L654.04,123.83 L654.57,123.97 L655.11,124.10 L655.64,124.23 L656.18,124.36 L656.72,124.49 L657.25,124.62 L657.79,124.75 L658.32,124.88 L658.86,125.01 L659.40,125.15 L659.93,125.28 L660.47,125.41 L661.01,125.54 L661.54,125.67 L662.08,125.80 L662.61,125.93 L663.15,126.06 L663.69,126.19 L664.22,126.32 L664.76,126.44 L665.29,126.57 L665.83,126.70 L666.37,126.83 L666.90,126.96 L667.44,127.08 L667.97,127.21 L668.51,127.34 L669.05,127.47 L669.58,127.59 L670.12,127.72 L670.65,127.84 L671.19,127.97 L671.73,128.09 L672.26,128.22 L672.80,128.34 L673.34,128.46 L673.87,128.59 L674.41,128.71 L674.94,128.83 L675.48,128.95 L676.02,129.08 L676.55,129.20 L677.09,129.32 L677.62,129.44 L678.16,129.55 L678.70,129.67 L679.23,129.79 L679.77,129.91 L680.30,130.03 L680.84,130.14 L681.38,130.26 L681.91,130.37 L682.45,130.49 L682.98,130.60 L683.52,130.72 L684.06,130.83 L684.59,130.94 L685.13,131.05 L685.67,131.17 L686.20,131.28 L686.74,131.39 L687.27,131.50 L687.81,131.61 L688.35,131.71 L688.88,131.82 L689.42,131.93 L689.95,132.03 L690.49,132.14 L691.03,132.25 L691.56,132.35 L692.10,132.45 L692.63,132.56 L693.17,132.66 L693.71,132.76 L694.24,132.86 L694.78,132.96 L695.31,133.06 L695.85,133.16 L696.39,133.26 L696.92,133.36 L697.46,133.45 L698.00,133.55 L698.53,133.65 L699.07,133.74 L699.60,133.84 L700.14,133.93 L700.68,134.02 L701.21,134.12 L701.75,134.21 L702.28,134.30 L702.82,134.39 L703.36,134.48 L703.89,134.57 L704.43,134.65 L704.96,134.74 L705.50,134.83 L706.04,134.91 L706.57,135.00 L707.11,135.08 L707.64,135.17 L708.18,135.25 L708.72,135.33 L709.25,135.42 L709.79,135.50 L710.33,135.58 L710.86,135.66 L711.40,135.74 L711.93,135.81 L712.47,135.89 L713.01,135.97 L713.54,136.05 L714.08,136.12 L714.61,136.20 L715.15,136.27 L715.69,136.34 L716.22,136.42 L716.76,136.49 L717.29,136.56 L717.83,136.63 L718.37,136.70 L718.90,136.77 L719.44,136.84 L719.98,136.91 L720.51,136.98 L721.05,137.04 L721.58,137.11 L722.12,137.17 L722.66,137.24 L723.19,137.30 L723.73,137.37 L724.26,137.43 L724.80,137.49 L725.34,137.55 L725.87,137.61 L726.41,137.67 L726.94,137.73 L727.48,137.79 L728.02,137.85 L728.55,137.91 L729.09,137.97 L729.62,138.02 L730.16,138.08 L730.70,138.13 L731.23,138.19 L731.77,138.24 L732.31,138.30 L732.84,138.35 L733.38,138.40 L733.91,138.45 L734.45,138.50 L734.99,138.56 L735.52,138.61 L736.06,138.65 L736.59,138.70 L737.13,138.75 L737.67,138.80 L738.20,138.85 L738.74,138.89 L739.27,138.94 L739.81,138.98 L740.35,139.03 L740.88,139.07 L741.42,139.12 L741.95,139.16 L742.49,139.20 L743.03,139.25 L743.56,139.29 L744.10,139.33 L744.64,139.37 L745.17,139.41 L745.71,139.45 L746.24,139.49 L746.78,139.53 L747.32,139.56 L747.85,139.60 L748.39,139.64 L748.92,139.67 L749.46,139.71 L750.00,139.75 L750.53,139.78 L751.07,139.82 L751.60,139.85 L752.14,139.88 L752.68,139.92 L753.21,139.95 L753.75,139.98 L754.28,140.01 L754.82,140.05 L755.36,140.08 L755.89,140.11 L756.43,140.14 L756.97,140.17 L757.50,140.20 L758.04,140.22 L758.57,140.25 L759.11,140.28 L759.65,140.31 L760.18,140.34 L760.72,140.36 L761.25,140.39 L761.79,140.41 L762.33,140.44 L762.86,140.46 L763.40,140.49 L763.93,140.51 L764.47,140.54 L765.01,140.56 L765.54,140.58 L766.08,140.61 L766.61,140.63 L767.15,140.65 L767.69,140.67 L768.22,140.70 L768.76,140.72 L769.30,140.74 L769.83,140.76 L770.37,140.78 L770.90,140.80 L771.44,140.82 L771.98,140.84 L772.51,140.85 L773.05,140.87 L773.58,140.89 L774.12,140.91 L774.66,140.93 L775.19,140.94 L775.73,140.96 L776.26,140.98 L776.80,140.99 L777.34,141.01 L777.87,141.03 L778.41,141.04 L778.95,141.06 L779.48,141.07 L780.02,141.09 L780.55,141.10 L781.09,141.11 L781.63,141.13 L782.16,141.14 L782.70,141.15 L783.23,141.17 L783.77,141.18 L784.31,141.19 L784.84,141.20 L785.38,141.22 L785.91,141.23 L786.45,141.24 L786.99,141.25 L787.52,141.26 L788.06,141.27 L788.59,141.28 L789.13,141.29 L789.67,141.30 L790.20,141.32 L790.74,141.32 L791.28,141.33 L791.81,141.34 L792.35,141.35 L792.88,141.36 L793.42,141.37 L793.96,141.38 L794.49,141.39 L795.03,141.40 L795.56,141.40 L796.10,141.41 L796.64,141.42 L797.17,141.43 L797.71,141.43 L798.24,141.44 L798.78,141.45 L799.32,141.46 L799.85,141.46 L800.39,141.47 L800.92,141.48 L801.46,141.48 L802.00,141.49 L802.53,141.49 L803.07,141.50 L803.61,141.50 L804.14,141.51 L804.68,141.52 L805.21,141.52 L805.75,141.53 L806.29,141.53 L806.82,141.54 L807.36,141.54 L807.89,141.54 L808.43,141.55 L808.97,141.55 L809.50,141.56 L810.04,141.56 L810.57,141.57 L811.11,141.57 L811.65,141.57 L812.18,141.58 L812.72,141.58 L813.25,141.58 L813.79,141.59 L814.33,141.59 L814.86,141.59 L815.40,141.60 L815.94,141.60 L816.47,141.60 L817.01,141.61 L817.54,141.61 L818.08,141.61 L818.62,141.61 L819.15,141.62 L819.69,141.62 L820.22,141.62 L820.76,141.62 L821.30,141.62 L821.83,141.63 L822.37,141.63 L822.90,141.63 L823.44,141.63 L823.98,141.63 L824.51,141.64 L825.05,141.64 L825.58,141.64 L826.12,141.64 L826.66,141.64 L827.19,141.64 L827.73,141.64 L828.27,141.65 L828.80,141.65 L829.34,141.65 L829.87,141.65 L830.41,141.65 L830.95,141.65 L831.48,141.65 L832.02,141.65 L832.55,141.65 L833.09,141.65 L833.63,141.66 L834.16,141.66 L834.70,141.66 L835.23,141.66 L835.77,141.66 L836.31,141.66 L836.84,141.66 L837.38,141.66 L837.92,141.66 L838.45,141.66 L838.99,141.66 L839.52,141.66 L840.06,141.66 L840.60,141.66 L841.13,141.66 L841.67,141.66 L842.20,141.66 L842.74,141.66 L843.28,141.67 L843.81,141.67 L844.35,141.67 L844.88,141.67 L845.42,141.67 L845.96,141.67 L846.49,141.67 L847.03,141.67 L847.56,141.67 L848.10,141.67 L848.64,141.67 L849.17,141.67 L849.71,141.67 L850.25,141.67 L850.78,141.67 L851.32,141.67 L851.85,141.67 L852.39,141.67 L852.93,141.67 L853.46,141.67 L854.00,141.67 L854.53,141.67 L855.07,141.67 L855.61,141.67 L856.14,141.67 L856.68,141.67 L857.21,141.67 L857.75,141.67 L858.29,141.67 L858.82,141.67 L859.36,141.67 L859.89,141.67 L860.43,141.67 L860.97,141.67 L861.50,141.67 L862.04,141.67 L862.58,141.67 L863.11,141.67 L863.65,141.67 L864.18,141.67 L864.72,141.67 L865.26,141.67 L865.79,141.67 L866.33,141.67 L866.86,141.67 L867.40,141.67" fill="none" stroke="#000" stroke-width="5.8" stroke-dasharray="2.8 13.93" stroke-dashoffset="-2.8" stroke-linecap="round" stroke-linejoin="round"/>
</g>
<line x1="123.3" y1="114.2" x2="214.9" y2="114.2" stroke="#00f" stroke-width="5" stroke-linecap="round"/>
<line x1="126.2" y1="190.5" x2="205" y2="190.5" stroke="#f00" stroke-width="5" stroke-dasharray="12 21" stroke-linecap="round"/>
<line x1="125.9" y1="268.1" x2="213" y2="268.1" stroke="#000" stroke-width="5.8" stroke-dasharray="3.0 13.45" stroke-linecap="round"/>
<g fill="#000" font-family='"Liberation Sans", sans-serif'><text transform="translate(240.45 129.05) scale(1.020 1)" font-size="44.00" font-style="italic" >μ</text><text transform="translate(238.96 204.30) scale(0.940 1)" font-size="44.60" >F</text><path d="M763 0H583V1147Q518 1085 412.5 1023Q307 961 223 930V1104Q374 1175 487 1276Q600 1377 647 1472H763Z" transform="translate(264.19 212.40) scale(0.01501 -0.01501)"/><text transform="translate(281.29 212.40) scale(1.000 1)" font-size="30.75" >23</text><text transform="translate(238.53 282.37) scale(0.968 1)" font-size="44.20" >C</text><text transform="translate(271.31 290.10) scale(0.910 1)" font-size="32.40" >GME</text><text transform="translate(49.99 638.38) scale(0.961 1)" font-size="53.50" >0</text><text transform="translate(577.90 637.72) scale(1.020 1)" font-size="49.60" font-style="italic" >θ</text><text transform="translate(605.13 646.94) scale(0.896 1)" font-size="36.40" >0</text><text transform="translate(891.65 602.30) scale(0.967 1)" font-size="51.70" >0</text><text transform="translate(891.02 367.50) scale(0.978 1)" font-size="51.70" >0.5</text><text transform="translate(891.30 272.90) scale(0.974 1)" font-size="52.50" >0.7</text><path d="M763 0H583V1147Q518 1085 412.5 1023Q307 961 223 930V1104Q374 1175 487 1276Q600 1377 647 1472H763Z" transform="translate(890.84 132.40) scale(0.02527 -0.02527)"/><text transform="translate(52.23 50.40) scale(1.000 1)" font-size="34.90" >sep</text><text transform="translate(543.93 49.10) scale(0.992 1)" font-size="51.40" >GHZ</text><text transform="translate(841.78 49.00) scale(0.942 1)" font-size="53.20" >W</text></g>
<g fill="none" stroke="#000" stroke-linecap="round" stroke-linejoin="round"><path d="M24.6 16.9 Q20.6 29 22.3 35 Q24.6 39.4 31.5 39.3 Q40.5 39 45.3 32.6 Q48.8 27 50.2 17.3" stroke-width="4.2"/><path d="M37.6 15.8 L30 48.7" stroke-width="4.2"/></g>
<g fill="none" stroke="#000" stroke-linecap="round" stroke-linejoin="round"><path d="M855 614.3 Q870 613.2 886 613.6" stroke-width="3.6"/><path d="M862.4 614.5 Q861.4 621 860 626 Q857.6 633 853.6 636.8" stroke-width="4.2"/><path d="M877.4 614.6 Q875.2 621 874.8 628 Q874.6 635 878.8 637.2" stroke-width="4.2"/></g>
<line x1="7.9" y1="7.5" x2="7.9" y2="49.5" stroke="#000" stroke-width="3.6" stroke-linecap="round"/>
<polyline points="113.3,7.6 124.9,28.6 113.3,49.6" fill="none" stroke="#000" stroke-width="3.7" stroke-linecap="round" stroke-linejoin="miter"/>
<line x1="538.4" y1="15.8" x2="538.4" y2="56.9" stroke="#000" stroke-width="3.6" stroke-linecap="round"/>
<polyline points="653.3,16.4 665.4,36.5 653.3,56.7" fill="none" stroke="#000" stroke-width="3.7" stroke-linecap="round" stroke-linejoin="miter"/>
<line x1="835.4" y1="15.5" x2="835.4" y2="57.2" stroke="#000" stroke-width="3.6" stroke-linecap="round"/>
<polyline points="891.3,16.1 903.2,37.0 891.3,57.8" fill="none" stroke="#000" stroke-width="3.7" stroke-linecap="round" stroke-linejoin="miter"/>
</svg>
</body></html>
